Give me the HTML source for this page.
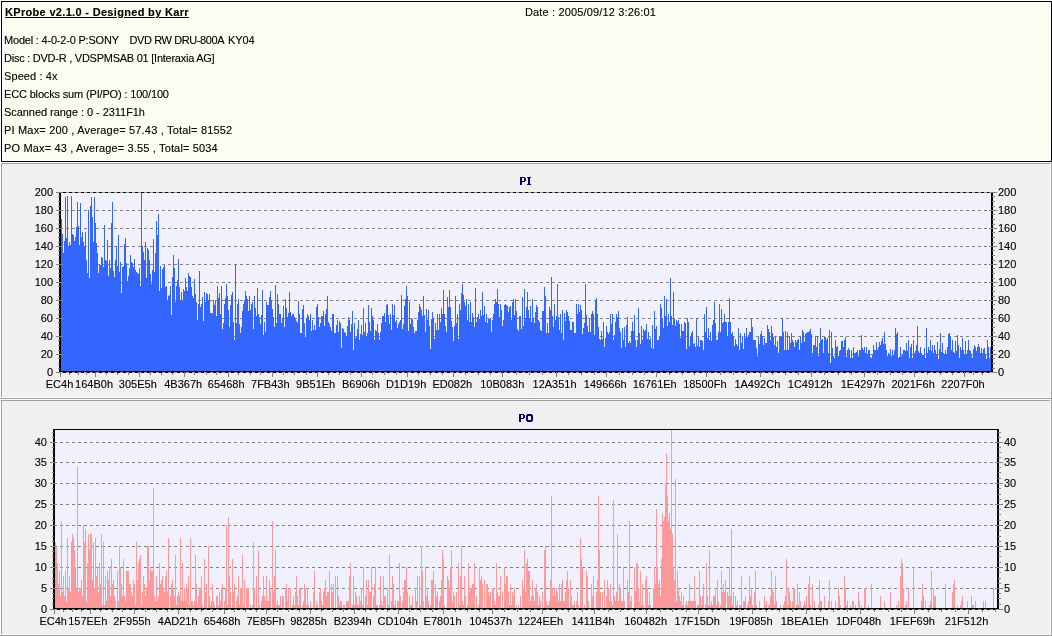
<!DOCTYPE html>
<html><head><meta charset="utf-8"><style>
html,body{margin:0;padding:0;}
body{width:1052px;height:636px;overflow:hidden;position:relative;background:#FFFFFF;font-family:"Liberation Sans", sans-serif;}
.hdr{position:absolute;left:1px;top:1px;width:1051px;height:161px;box-sizing:border-box;border:1px solid #000;background:#FCFCF0;box-shadow:inset 1px -1px 0 #FFFFFF, inset -1px 0 0 #FFFFFF;}
.t{position:absolute;font-size:11px;line-height:13px;white-space:nowrap;color:#000;}
.txt{position:absolute;left:0;top:0;width:1052px;height:636px;will-change:transform;filter:url(#th);}
</style></head><body>
<svg width="0" height="0" style="position:absolute"><filter id="th" x="0" y="0" width="1" height="1" filterUnits="objectBoundingBox"><feComponentTransfer><feFuncA type="gamma" amplitude="1" exponent="0.8" offset="0"/></feComponentTransfer></filter></svg>
<svg width="1052" height="636" viewBox="0 0 1052 636" shape-rendering="crispEdges" font-family='"Liberation Sans", sans-serif' style="position:absolute;left:0;top:0;will-change:transform"><rect x="0" y="162" width="1052" height="237" fill="#F0F0F0"/><rect x="0" y="162" width="1052" height="1" fill="#FFFFFF"/><rect x="0" y="162" width="1" height="237" fill="#FFFFFF"/><rect x="1" y="163" width="1050" height="1" fill="#A0A0A0"/><rect x="1" y="163" width="1" height="235" fill="#A0A0A0"/><rect x="1" y="397" width="1050" height="1" fill="#FFFFFF"/><rect x="1050" y="163" width="1" height="235" fill="#FFFFFF"/><rect x="0" y="398" width="1052" height="1" fill="#A0A0A0"/><rect x="1051" y="162" width="1" height="237" fill="#A0A0A0"/><rect x="0" y="399" width="1052" height="237" fill="#F0F0F0"/><rect x="0" y="399" width="1052" height="1" fill="#FFFFFF"/><rect x="0" y="399" width="1" height="237" fill="#FFFFFF"/><rect x="1" y="400" width="1050" height="1" fill="#A0A0A0"/><rect x="1" y="400" width="1" height="235" fill="#A0A0A0"/><rect x="1" y="634" width="1050" height="1" fill="#FFFFFF"/><rect x="1050" y="400" width="1" height="235" fill="#FFFFFF"/><rect x="0" y="635" width="1052" height="1" fill="#A0A0A0"/><rect x="1051" y="399" width="1" height="237" fill="#A0A0A0"/><rect x="61" y="193" width="930" height="178" fill="#F0F0FF"/><path d="M61 354h2v1h-2zM66 354h3v1h-3zM72 354h3v1h-3zM78 354h3v1h-3zM84 354h3v1h-3zM90 354h3v1h-3zM96 354h3v1h-3zM102 354h3v1h-3zM108 354h3v1h-3zM114 354h3v1h-3zM120 354h3v1h-3zM126 354h3v1h-3zM132 354h3v1h-3zM138 354h3v1h-3zM144 354h3v1h-3zM150 354h3v1h-3zM156 354h3v1h-3zM162 354h3v1h-3zM168 354h3v1h-3zM174 354h3v1h-3zM180 354h3v1h-3zM186 354h3v1h-3zM192 354h3v1h-3zM198 354h3v1h-3zM204 354h3v1h-3zM210 354h3v1h-3zM216 354h3v1h-3zM222 354h3v1h-3zM228 354h3v1h-3zM234 354h3v1h-3zM240 354h3v1h-3zM246 354h3v1h-3zM252 354h3v1h-3zM258 354h3v1h-3zM264 354h3v1h-3zM270 354h3v1h-3zM276 354h3v1h-3zM282 354h3v1h-3zM288 354h3v1h-3zM294 354h3v1h-3zM300 354h3v1h-3zM306 354h3v1h-3zM312 354h3v1h-3zM318 354h3v1h-3zM324 354h3v1h-3zM330 354h3v1h-3zM336 354h3v1h-3zM342 354h3v1h-3zM348 354h3v1h-3zM354 354h3v1h-3zM360 354h3v1h-3zM366 354h3v1h-3zM372 354h3v1h-3zM378 354h3v1h-3zM384 354h3v1h-3zM390 354h3v1h-3zM396 354h3v1h-3zM402 354h3v1h-3zM408 354h3v1h-3zM414 354h3v1h-3zM420 354h3v1h-3zM426 354h3v1h-3zM432 354h3v1h-3zM438 354h3v1h-3zM444 354h3v1h-3zM450 354h3v1h-3zM456 354h3v1h-3zM462 354h3v1h-3zM468 354h3v1h-3zM474 354h3v1h-3zM480 354h3v1h-3zM486 354h3v1h-3zM492 354h3v1h-3zM498 354h3v1h-3zM504 354h3v1h-3zM510 354h3v1h-3zM516 354h3v1h-3zM522 354h3v1h-3zM528 354h3v1h-3zM534 354h3v1h-3zM540 354h3v1h-3zM546 354h3v1h-3zM552 354h3v1h-3zM558 354h3v1h-3zM564 354h3v1h-3zM570 354h3v1h-3zM576 354h3v1h-3zM582 354h3v1h-3zM588 354h3v1h-3zM594 354h3v1h-3zM600 354h3v1h-3zM606 354h3v1h-3zM612 354h3v1h-3zM618 354h3v1h-3zM624 354h3v1h-3zM630 354h3v1h-3zM636 354h3v1h-3zM642 354h3v1h-3zM648 354h3v1h-3zM654 354h3v1h-3zM660 354h3v1h-3zM666 354h3v1h-3zM672 354h3v1h-3zM678 354h3v1h-3zM684 354h3v1h-3zM690 354h3v1h-3zM696 354h3v1h-3zM702 354h3v1h-3zM708 354h3v1h-3zM714 354h3v1h-3zM720 354h3v1h-3zM726 354h3v1h-3zM732 354h3v1h-3zM738 354h3v1h-3zM744 354h3v1h-3zM750 354h3v1h-3zM756 354h3v1h-3zM762 354h3v1h-3zM768 354h3v1h-3zM774 354h3v1h-3zM780 354h3v1h-3zM786 354h3v1h-3zM792 354h3v1h-3zM798 354h3v1h-3zM804 354h3v1h-3zM810 354h3v1h-3zM816 354h3v1h-3zM822 354h3v1h-3zM828 354h3v1h-3zM834 354h3v1h-3zM840 354h3v1h-3zM846 354h3v1h-3zM852 354h3v1h-3zM858 354h3v1h-3zM864 354h3v1h-3zM870 354h3v1h-3zM876 354h3v1h-3zM882 354h3v1h-3zM888 354h3v1h-3zM894 354h3v1h-3zM900 354h3v1h-3zM906 354h3v1h-3zM912 354h3v1h-3zM918 354h3v1h-3zM924 354h3v1h-3zM930 354h3v1h-3zM936 354h3v1h-3zM942 354h3v1h-3zM948 354h3v1h-3zM954 354h3v1h-3zM960 354h3v1h-3zM966 354h3v1h-3zM972 354h3v1h-3zM978 354h3v1h-3zM984 354h3v1h-3zM990 354h1v1h-1z" fill="#808080"/><path d="M61 336h2v1h-2zM66 336h3v1h-3zM72 336h3v1h-3zM78 336h3v1h-3zM84 336h3v1h-3zM90 336h3v1h-3zM96 336h3v1h-3zM102 336h3v1h-3zM108 336h3v1h-3zM114 336h3v1h-3zM120 336h3v1h-3zM126 336h3v1h-3zM132 336h3v1h-3zM138 336h3v1h-3zM144 336h3v1h-3zM150 336h3v1h-3zM156 336h3v1h-3zM162 336h3v1h-3zM168 336h3v1h-3zM174 336h3v1h-3zM180 336h3v1h-3zM186 336h3v1h-3zM192 336h3v1h-3zM198 336h3v1h-3zM204 336h3v1h-3zM210 336h3v1h-3zM216 336h3v1h-3zM222 336h3v1h-3zM228 336h3v1h-3zM234 336h3v1h-3zM240 336h3v1h-3zM246 336h3v1h-3zM252 336h3v1h-3zM258 336h3v1h-3zM264 336h3v1h-3zM270 336h3v1h-3zM276 336h3v1h-3zM282 336h3v1h-3zM288 336h3v1h-3zM294 336h3v1h-3zM300 336h3v1h-3zM306 336h3v1h-3zM312 336h3v1h-3zM318 336h3v1h-3zM324 336h3v1h-3zM330 336h3v1h-3zM336 336h3v1h-3zM342 336h3v1h-3zM348 336h3v1h-3zM354 336h3v1h-3zM360 336h3v1h-3zM366 336h3v1h-3zM372 336h3v1h-3zM378 336h3v1h-3zM384 336h3v1h-3zM390 336h3v1h-3zM396 336h3v1h-3zM402 336h3v1h-3zM408 336h3v1h-3zM414 336h3v1h-3zM420 336h3v1h-3zM426 336h3v1h-3zM432 336h3v1h-3zM438 336h3v1h-3zM444 336h3v1h-3zM450 336h3v1h-3zM456 336h3v1h-3zM462 336h3v1h-3zM468 336h3v1h-3zM474 336h3v1h-3zM480 336h3v1h-3zM486 336h3v1h-3zM492 336h3v1h-3zM498 336h3v1h-3zM504 336h3v1h-3zM510 336h3v1h-3zM516 336h3v1h-3zM522 336h3v1h-3zM528 336h3v1h-3zM534 336h3v1h-3zM540 336h3v1h-3zM546 336h3v1h-3zM552 336h3v1h-3zM558 336h3v1h-3zM564 336h3v1h-3zM570 336h3v1h-3zM576 336h3v1h-3zM582 336h3v1h-3zM588 336h3v1h-3zM594 336h3v1h-3zM600 336h3v1h-3zM606 336h3v1h-3zM612 336h3v1h-3zM618 336h3v1h-3zM624 336h3v1h-3zM630 336h3v1h-3zM636 336h3v1h-3zM642 336h3v1h-3zM648 336h3v1h-3zM654 336h3v1h-3zM660 336h3v1h-3zM666 336h3v1h-3zM672 336h3v1h-3zM678 336h3v1h-3zM684 336h3v1h-3zM690 336h3v1h-3zM696 336h3v1h-3zM702 336h3v1h-3zM708 336h3v1h-3zM714 336h3v1h-3zM720 336h3v1h-3zM726 336h3v1h-3zM732 336h3v1h-3zM738 336h3v1h-3zM744 336h3v1h-3zM750 336h3v1h-3zM756 336h3v1h-3zM762 336h3v1h-3zM768 336h3v1h-3zM774 336h3v1h-3zM780 336h3v1h-3zM786 336h3v1h-3zM792 336h3v1h-3zM798 336h3v1h-3zM804 336h3v1h-3zM810 336h3v1h-3zM816 336h3v1h-3zM822 336h3v1h-3zM828 336h3v1h-3zM834 336h3v1h-3zM840 336h3v1h-3zM846 336h3v1h-3zM852 336h3v1h-3zM858 336h3v1h-3zM864 336h3v1h-3zM870 336h3v1h-3zM876 336h3v1h-3zM882 336h3v1h-3zM888 336h3v1h-3zM894 336h3v1h-3zM900 336h3v1h-3zM906 336h3v1h-3zM912 336h3v1h-3zM918 336h3v1h-3zM924 336h3v1h-3zM930 336h3v1h-3zM936 336h3v1h-3zM942 336h3v1h-3zM948 336h3v1h-3zM954 336h3v1h-3zM960 336h3v1h-3zM966 336h3v1h-3zM972 336h3v1h-3zM978 336h3v1h-3zM984 336h3v1h-3zM990 336h1v1h-1z" fill="#808080"/><path d="M61 318h2v1h-2zM66 318h3v1h-3zM72 318h3v1h-3zM78 318h3v1h-3zM84 318h3v1h-3zM90 318h3v1h-3zM96 318h3v1h-3zM102 318h3v1h-3zM108 318h3v1h-3zM114 318h3v1h-3zM120 318h3v1h-3zM126 318h3v1h-3zM132 318h3v1h-3zM138 318h3v1h-3zM144 318h3v1h-3zM150 318h3v1h-3zM156 318h3v1h-3zM162 318h3v1h-3zM168 318h3v1h-3zM174 318h3v1h-3zM180 318h3v1h-3zM186 318h3v1h-3zM192 318h3v1h-3zM198 318h3v1h-3zM204 318h3v1h-3zM210 318h3v1h-3zM216 318h3v1h-3zM222 318h3v1h-3zM228 318h3v1h-3zM234 318h3v1h-3zM240 318h3v1h-3zM246 318h3v1h-3zM252 318h3v1h-3zM258 318h3v1h-3zM264 318h3v1h-3zM270 318h3v1h-3zM276 318h3v1h-3zM282 318h3v1h-3zM288 318h3v1h-3zM294 318h3v1h-3zM300 318h3v1h-3zM306 318h3v1h-3zM312 318h3v1h-3zM318 318h3v1h-3zM324 318h3v1h-3zM330 318h3v1h-3zM336 318h3v1h-3zM342 318h3v1h-3zM348 318h3v1h-3zM354 318h3v1h-3zM360 318h3v1h-3zM366 318h3v1h-3zM372 318h3v1h-3zM378 318h3v1h-3zM384 318h3v1h-3zM390 318h3v1h-3zM396 318h3v1h-3zM402 318h3v1h-3zM408 318h3v1h-3zM414 318h3v1h-3zM420 318h3v1h-3zM426 318h3v1h-3zM432 318h3v1h-3zM438 318h3v1h-3zM444 318h3v1h-3zM450 318h3v1h-3zM456 318h3v1h-3zM462 318h3v1h-3zM468 318h3v1h-3zM474 318h3v1h-3zM480 318h3v1h-3zM486 318h3v1h-3zM492 318h3v1h-3zM498 318h3v1h-3zM504 318h3v1h-3zM510 318h3v1h-3zM516 318h3v1h-3zM522 318h3v1h-3zM528 318h3v1h-3zM534 318h3v1h-3zM540 318h3v1h-3zM546 318h3v1h-3zM552 318h3v1h-3zM558 318h3v1h-3zM564 318h3v1h-3zM570 318h3v1h-3zM576 318h3v1h-3zM582 318h3v1h-3zM588 318h3v1h-3zM594 318h3v1h-3zM600 318h3v1h-3zM606 318h3v1h-3zM612 318h3v1h-3zM618 318h3v1h-3zM624 318h3v1h-3zM630 318h3v1h-3zM636 318h3v1h-3zM642 318h3v1h-3zM648 318h3v1h-3zM654 318h3v1h-3zM660 318h3v1h-3zM666 318h3v1h-3zM672 318h3v1h-3zM678 318h3v1h-3zM684 318h3v1h-3zM690 318h3v1h-3zM696 318h3v1h-3zM702 318h3v1h-3zM708 318h3v1h-3zM714 318h3v1h-3zM720 318h3v1h-3zM726 318h3v1h-3zM732 318h3v1h-3zM738 318h3v1h-3zM744 318h3v1h-3zM750 318h3v1h-3zM756 318h3v1h-3zM762 318h3v1h-3zM768 318h3v1h-3zM774 318h3v1h-3zM780 318h3v1h-3zM786 318h3v1h-3zM792 318h3v1h-3zM798 318h3v1h-3zM804 318h3v1h-3zM810 318h3v1h-3zM816 318h3v1h-3zM822 318h3v1h-3zM828 318h3v1h-3zM834 318h3v1h-3zM840 318h3v1h-3zM846 318h3v1h-3zM852 318h3v1h-3zM858 318h3v1h-3zM864 318h3v1h-3zM870 318h3v1h-3zM876 318h3v1h-3zM882 318h3v1h-3zM888 318h3v1h-3zM894 318h3v1h-3zM900 318h3v1h-3zM906 318h3v1h-3zM912 318h3v1h-3zM918 318h3v1h-3zM924 318h3v1h-3zM930 318h3v1h-3zM936 318h3v1h-3zM942 318h3v1h-3zM948 318h3v1h-3zM954 318h3v1h-3zM960 318h3v1h-3zM966 318h3v1h-3zM972 318h3v1h-3zM978 318h3v1h-3zM984 318h3v1h-3zM990 318h1v1h-1z" fill="#808080"/><path d="M61 300h2v1h-2zM66 300h3v1h-3zM72 300h3v1h-3zM78 300h3v1h-3zM84 300h3v1h-3zM90 300h3v1h-3zM96 300h3v1h-3zM102 300h3v1h-3zM108 300h3v1h-3zM114 300h3v1h-3zM120 300h3v1h-3zM126 300h3v1h-3zM132 300h3v1h-3zM138 300h3v1h-3zM144 300h3v1h-3zM150 300h3v1h-3zM156 300h3v1h-3zM162 300h3v1h-3zM168 300h3v1h-3zM174 300h3v1h-3zM180 300h3v1h-3zM186 300h3v1h-3zM192 300h3v1h-3zM198 300h3v1h-3zM204 300h3v1h-3zM210 300h3v1h-3zM216 300h3v1h-3zM222 300h3v1h-3zM228 300h3v1h-3zM234 300h3v1h-3zM240 300h3v1h-3zM246 300h3v1h-3zM252 300h3v1h-3zM258 300h3v1h-3zM264 300h3v1h-3zM270 300h3v1h-3zM276 300h3v1h-3zM282 300h3v1h-3zM288 300h3v1h-3zM294 300h3v1h-3zM300 300h3v1h-3zM306 300h3v1h-3zM312 300h3v1h-3zM318 300h3v1h-3zM324 300h3v1h-3zM330 300h3v1h-3zM336 300h3v1h-3zM342 300h3v1h-3zM348 300h3v1h-3zM354 300h3v1h-3zM360 300h3v1h-3zM366 300h3v1h-3zM372 300h3v1h-3zM378 300h3v1h-3zM384 300h3v1h-3zM390 300h3v1h-3zM396 300h3v1h-3zM402 300h3v1h-3zM408 300h3v1h-3zM414 300h3v1h-3zM420 300h3v1h-3zM426 300h3v1h-3zM432 300h3v1h-3zM438 300h3v1h-3zM444 300h3v1h-3zM450 300h3v1h-3zM456 300h3v1h-3zM462 300h3v1h-3zM468 300h3v1h-3zM474 300h3v1h-3zM480 300h3v1h-3zM486 300h3v1h-3zM492 300h3v1h-3zM498 300h3v1h-3zM504 300h3v1h-3zM510 300h3v1h-3zM516 300h3v1h-3zM522 300h3v1h-3zM528 300h3v1h-3zM534 300h3v1h-3zM540 300h3v1h-3zM546 300h3v1h-3zM552 300h3v1h-3zM558 300h3v1h-3zM564 300h3v1h-3zM570 300h3v1h-3zM576 300h3v1h-3zM582 300h3v1h-3zM588 300h3v1h-3zM594 300h3v1h-3zM600 300h3v1h-3zM606 300h3v1h-3zM612 300h3v1h-3zM618 300h3v1h-3zM624 300h3v1h-3zM630 300h3v1h-3zM636 300h3v1h-3zM642 300h3v1h-3zM648 300h3v1h-3zM654 300h3v1h-3zM660 300h3v1h-3zM666 300h3v1h-3zM672 300h3v1h-3zM678 300h3v1h-3zM684 300h3v1h-3zM690 300h3v1h-3zM696 300h3v1h-3zM702 300h3v1h-3zM708 300h3v1h-3zM714 300h3v1h-3zM720 300h3v1h-3zM726 300h3v1h-3zM732 300h3v1h-3zM738 300h3v1h-3zM744 300h3v1h-3zM750 300h3v1h-3zM756 300h3v1h-3zM762 300h3v1h-3zM768 300h3v1h-3zM774 300h3v1h-3zM780 300h3v1h-3zM786 300h3v1h-3zM792 300h3v1h-3zM798 300h3v1h-3zM804 300h3v1h-3zM810 300h3v1h-3zM816 300h3v1h-3zM822 300h3v1h-3zM828 300h3v1h-3zM834 300h3v1h-3zM840 300h3v1h-3zM846 300h3v1h-3zM852 300h3v1h-3zM858 300h3v1h-3zM864 300h3v1h-3zM870 300h3v1h-3zM876 300h3v1h-3zM882 300h3v1h-3zM888 300h3v1h-3zM894 300h3v1h-3zM900 300h3v1h-3zM906 300h3v1h-3zM912 300h3v1h-3zM918 300h3v1h-3zM924 300h3v1h-3zM930 300h3v1h-3zM936 300h3v1h-3zM942 300h3v1h-3zM948 300h3v1h-3zM954 300h3v1h-3zM960 300h3v1h-3zM966 300h3v1h-3zM972 300h3v1h-3zM978 300h3v1h-3zM984 300h3v1h-3zM990 300h1v1h-1z" fill="#808080"/><path d="M61 282h2v1h-2zM66 282h3v1h-3zM72 282h3v1h-3zM78 282h3v1h-3zM84 282h3v1h-3zM90 282h3v1h-3zM96 282h3v1h-3zM102 282h3v1h-3zM108 282h3v1h-3zM114 282h3v1h-3zM120 282h3v1h-3zM126 282h3v1h-3zM132 282h3v1h-3zM138 282h3v1h-3zM144 282h3v1h-3zM150 282h3v1h-3zM156 282h3v1h-3zM162 282h3v1h-3zM168 282h3v1h-3zM174 282h3v1h-3zM180 282h3v1h-3zM186 282h3v1h-3zM192 282h3v1h-3zM198 282h3v1h-3zM204 282h3v1h-3zM210 282h3v1h-3zM216 282h3v1h-3zM222 282h3v1h-3zM228 282h3v1h-3zM234 282h3v1h-3zM240 282h3v1h-3zM246 282h3v1h-3zM252 282h3v1h-3zM258 282h3v1h-3zM264 282h3v1h-3zM270 282h3v1h-3zM276 282h3v1h-3zM282 282h3v1h-3zM288 282h3v1h-3zM294 282h3v1h-3zM300 282h3v1h-3zM306 282h3v1h-3zM312 282h3v1h-3zM318 282h3v1h-3zM324 282h3v1h-3zM330 282h3v1h-3zM336 282h3v1h-3zM342 282h3v1h-3zM348 282h3v1h-3zM354 282h3v1h-3zM360 282h3v1h-3zM366 282h3v1h-3zM372 282h3v1h-3zM378 282h3v1h-3zM384 282h3v1h-3zM390 282h3v1h-3zM396 282h3v1h-3zM402 282h3v1h-3zM408 282h3v1h-3zM414 282h3v1h-3zM420 282h3v1h-3zM426 282h3v1h-3zM432 282h3v1h-3zM438 282h3v1h-3zM444 282h3v1h-3zM450 282h3v1h-3zM456 282h3v1h-3zM462 282h3v1h-3zM468 282h3v1h-3zM474 282h3v1h-3zM480 282h3v1h-3zM486 282h3v1h-3zM492 282h3v1h-3zM498 282h3v1h-3zM504 282h3v1h-3zM510 282h3v1h-3zM516 282h3v1h-3zM522 282h3v1h-3zM528 282h3v1h-3zM534 282h3v1h-3zM540 282h3v1h-3zM546 282h3v1h-3zM552 282h3v1h-3zM558 282h3v1h-3zM564 282h3v1h-3zM570 282h3v1h-3zM576 282h3v1h-3zM582 282h3v1h-3zM588 282h3v1h-3zM594 282h3v1h-3zM600 282h3v1h-3zM606 282h3v1h-3zM612 282h3v1h-3zM618 282h3v1h-3zM624 282h3v1h-3zM630 282h3v1h-3zM636 282h3v1h-3zM642 282h3v1h-3zM648 282h3v1h-3zM654 282h3v1h-3zM660 282h3v1h-3zM666 282h3v1h-3zM672 282h3v1h-3zM678 282h3v1h-3zM684 282h3v1h-3zM690 282h3v1h-3zM696 282h3v1h-3zM702 282h3v1h-3zM708 282h3v1h-3zM714 282h3v1h-3zM720 282h3v1h-3zM726 282h3v1h-3zM732 282h3v1h-3zM738 282h3v1h-3zM744 282h3v1h-3zM750 282h3v1h-3zM756 282h3v1h-3zM762 282h3v1h-3zM768 282h3v1h-3zM774 282h3v1h-3zM780 282h3v1h-3zM786 282h3v1h-3zM792 282h3v1h-3zM798 282h3v1h-3zM804 282h3v1h-3zM810 282h3v1h-3zM816 282h3v1h-3zM822 282h3v1h-3zM828 282h3v1h-3zM834 282h3v1h-3zM840 282h3v1h-3zM846 282h3v1h-3zM852 282h3v1h-3zM858 282h3v1h-3zM864 282h3v1h-3zM870 282h3v1h-3zM876 282h3v1h-3zM882 282h3v1h-3zM888 282h3v1h-3zM894 282h3v1h-3zM900 282h3v1h-3zM906 282h3v1h-3zM912 282h3v1h-3zM918 282h3v1h-3zM924 282h3v1h-3zM930 282h3v1h-3zM936 282h3v1h-3zM942 282h3v1h-3zM948 282h3v1h-3zM954 282h3v1h-3zM960 282h3v1h-3zM966 282h3v1h-3zM972 282h3v1h-3zM978 282h3v1h-3zM984 282h3v1h-3zM990 282h1v1h-1z" fill="#808080"/><path d="M61 264h2v1h-2zM66 264h3v1h-3zM72 264h3v1h-3zM78 264h3v1h-3zM84 264h3v1h-3zM90 264h3v1h-3zM96 264h3v1h-3zM102 264h3v1h-3zM108 264h3v1h-3zM114 264h3v1h-3zM120 264h3v1h-3zM126 264h3v1h-3zM132 264h3v1h-3zM138 264h3v1h-3zM144 264h3v1h-3zM150 264h3v1h-3zM156 264h3v1h-3zM162 264h3v1h-3zM168 264h3v1h-3zM174 264h3v1h-3zM180 264h3v1h-3zM186 264h3v1h-3zM192 264h3v1h-3zM198 264h3v1h-3zM204 264h3v1h-3zM210 264h3v1h-3zM216 264h3v1h-3zM222 264h3v1h-3zM228 264h3v1h-3zM234 264h3v1h-3zM240 264h3v1h-3zM246 264h3v1h-3zM252 264h3v1h-3zM258 264h3v1h-3zM264 264h3v1h-3zM270 264h3v1h-3zM276 264h3v1h-3zM282 264h3v1h-3zM288 264h3v1h-3zM294 264h3v1h-3zM300 264h3v1h-3zM306 264h3v1h-3zM312 264h3v1h-3zM318 264h3v1h-3zM324 264h3v1h-3zM330 264h3v1h-3zM336 264h3v1h-3zM342 264h3v1h-3zM348 264h3v1h-3zM354 264h3v1h-3zM360 264h3v1h-3zM366 264h3v1h-3zM372 264h3v1h-3zM378 264h3v1h-3zM384 264h3v1h-3zM390 264h3v1h-3zM396 264h3v1h-3zM402 264h3v1h-3zM408 264h3v1h-3zM414 264h3v1h-3zM420 264h3v1h-3zM426 264h3v1h-3zM432 264h3v1h-3zM438 264h3v1h-3zM444 264h3v1h-3zM450 264h3v1h-3zM456 264h3v1h-3zM462 264h3v1h-3zM468 264h3v1h-3zM474 264h3v1h-3zM480 264h3v1h-3zM486 264h3v1h-3zM492 264h3v1h-3zM498 264h3v1h-3zM504 264h3v1h-3zM510 264h3v1h-3zM516 264h3v1h-3zM522 264h3v1h-3zM528 264h3v1h-3zM534 264h3v1h-3zM540 264h3v1h-3zM546 264h3v1h-3zM552 264h3v1h-3zM558 264h3v1h-3zM564 264h3v1h-3zM570 264h3v1h-3zM576 264h3v1h-3zM582 264h3v1h-3zM588 264h3v1h-3zM594 264h3v1h-3zM600 264h3v1h-3zM606 264h3v1h-3zM612 264h3v1h-3zM618 264h3v1h-3zM624 264h3v1h-3zM630 264h3v1h-3zM636 264h3v1h-3zM642 264h3v1h-3zM648 264h3v1h-3zM654 264h3v1h-3zM660 264h3v1h-3zM666 264h3v1h-3zM672 264h3v1h-3zM678 264h3v1h-3zM684 264h3v1h-3zM690 264h3v1h-3zM696 264h3v1h-3zM702 264h3v1h-3zM708 264h3v1h-3zM714 264h3v1h-3zM720 264h3v1h-3zM726 264h3v1h-3zM732 264h3v1h-3zM738 264h3v1h-3zM744 264h3v1h-3zM750 264h3v1h-3zM756 264h3v1h-3zM762 264h3v1h-3zM768 264h3v1h-3zM774 264h3v1h-3zM780 264h3v1h-3zM786 264h3v1h-3zM792 264h3v1h-3zM798 264h3v1h-3zM804 264h3v1h-3zM810 264h3v1h-3zM816 264h3v1h-3zM822 264h3v1h-3zM828 264h3v1h-3zM834 264h3v1h-3zM840 264h3v1h-3zM846 264h3v1h-3zM852 264h3v1h-3zM858 264h3v1h-3zM864 264h3v1h-3zM870 264h3v1h-3zM876 264h3v1h-3zM882 264h3v1h-3zM888 264h3v1h-3zM894 264h3v1h-3zM900 264h3v1h-3zM906 264h3v1h-3zM912 264h3v1h-3zM918 264h3v1h-3zM924 264h3v1h-3zM930 264h3v1h-3zM936 264h3v1h-3zM942 264h3v1h-3zM948 264h3v1h-3zM954 264h3v1h-3zM960 264h3v1h-3zM966 264h3v1h-3zM972 264h3v1h-3zM978 264h3v1h-3zM984 264h3v1h-3zM990 264h1v1h-1z" fill="#808080"/><path d="M61 246h2v1h-2zM66 246h3v1h-3zM72 246h3v1h-3zM78 246h3v1h-3zM84 246h3v1h-3zM90 246h3v1h-3zM96 246h3v1h-3zM102 246h3v1h-3zM108 246h3v1h-3zM114 246h3v1h-3zM120 246h3v1h-3zM126 246h3v1h-3zM132 246h3v1h-3zM138 246h3v1h-3zM144 246h3v1h-3zM150 246h3v1h-3zM156 246h3v1h-3zM162 246h3v1h-3zM168 246h3v1h-3zM174 246h3v1h-3zM180 246h3v1h-3zM186 246h3v1h-3zM192 246h3v1h-3zM198 246h3v1h-3zM204 246h3v1h-3zM210 246h3v1h-3zM216 246h3v1h-3zM222 246h3v1h-3zM228 246h3v1h-3zM234 246h3v1h-3zM240 246h3v1h-3zM246 246h3v1h-3zM252 246h3v1h-3zM258 246h3v1h-3zM264 246h3v1h-3zM270 246h3v1h-3zM276 246h3v1h-3zM282 246h3v1h-3zM288 246h3v1h-3zM294 246h3v1h-3zM300 246h3v1h-3zM306 246h3v1h-3zM312 246h3v1h-3zM318 246h3v1h-3zM324 246h3v1h-3zM330 246h3v1h-3zM336 246h3v1h-3zM342 246h3v1h-3zM348 246h3v1h-3zM354 246h3v1h-3zM360 246h3v1h-3zM366 246h3v1h-3zM372 246h3v1h-3zM378 246h3v1h-3zM384 246h3v1h-3zM390 246h3v1h-3zM396 246h3v1h-3zM402 246h3v1h-3zM408 246h3v1h-3zM414 246h3v1h-3zM420 246h3v1h-3zM426 246h3v1h-3zM432 246h3v1h-3zM438 246h3v1h-3zM444 246h3v1h-3zM450 246h3v1h-3zM456 246h3v1h-3zM462 246h3v1h-3zM468 246h3v1h-3zM474 246h3v1h-3zM480 246h3v1h-3zM486 246h3v1h-3zM492 246h3v1h-3zM498 246h3v1h-3zM504 246h3v1h-3zM510 246h3v1h-3zM516 246h3v1h-3zM522 246h3v1h-3zM528 246h3v1h-3zM534 246h3v1h-3zM540 246h3v1h-3zM546 246h3v1h-3zM552 246h3v1h-3zM558 246h3v1h-3zM564 246h3v1h-3zM570 246h3v1h-3zM576 246h3v1h-3zM582 246h3v1h-3zM588 246h3v1h-3zM594 246h3v1h-3zM600 246h3v1h-3zM606 246h3v1h-3zM612 246h3v1h-3zM618 246h3v1h-3zM624 246h3v1h-3zM630 246h3v1h-3zM636 246h3v1h-3zM642 246h3v1h-3zM648 246h3v1h-3zM654 246h3v1h-3zM660 246h3v1h-3zM666 246h3v1h-3zM672 246h3v1h-3zM678 246h3v1h-3zM684 246h3v1h-3zM690 246h3v1h-3zM696 246h3v1h-3zM702 246h3v1h-3zM708 246h3v1h-3zM714 246h3v1h-3zM720 246h3v1h-3zM726 246h3v1h-3zM732 246h3v1h-3zM738 246h3v1h-3zM744 246h3v1h-3zM750 246h3v1h-3zM756 246h3v1h-3zM762 246h3v1h-3zM768 246h3v1h-3zM774 246h3v1h-3zM780 246h3v1h-3zM786 246h3v1h-3zM792 246h3v1h-3zM798 246h3v1h-3zM804 246h3v1h-3zM810 246h3v1h-3zM816 246h3v1h-3zM822 246h3v1h-3zM828 246h3v1h-3zM834 246h3v1h-3zM840 246h3v1h-3zM846 246h3v1h-3zM852 246h3v1h-3zM858 246h3v1h-3zM864 246h3v1h-3zM870 246h3v1h-3zM876 246h3v1h-3zM882 246h3v1h-3zM888 246h3v1h-3zM894 246h3v1h-3zM900 246h3v1h-3zM906 246h3v1h-3zM912 246h3v1h-3zM918 246h3v1h-3zM924 246h3v1h-3zM930 246h3v1h-3zM936 246h3v1h-3zM942 246h3v1h-3zM948 246h3v1h-3zM954 246h3v1h-3zM960 246h3v1h-3zM966 246h3v1h-3zM972 246h3v1h-3zM978 246h3v1h-3zM984 246h3v1h-3zM990 246h1v1h-1z" fill="#808080"/><path d="M61 228h2v1h-2zM66 228h3v1h-3zM72 228h3v1h-3zM78 228h3v1h-3zM84 228h3v1h-3zM90 228h3v1h-3zM96 228h3v1h-3zM102 228h3v1h-3zM108 228h3v1h-3zM114 228h3v1h-3zM120 228h3v1h-3zM126 228h3v1h-3zM132 228h3v1h-3zM138 228h3v1h-3zM144 228h3v1h-3zM150 228h3v1h-3zM156 228h3v1h-3zM162 228h3v1h-3zM168 228h3v1h-3zM174 228h3v1h-3zM180 228h3v1h-3zM186 228h3v1h-3zM192 228h3v1h-3zM198 228h3v1h-3zM204 228h3v1h-3zM210 228h3v1h-3zM216 228h3v1h-3zM222 228h3v1h-3zM228 228h3v1h-3zM234 228h3v1h-3zM240 228h3v1h-3zM246 228h3v1h-3zM252 228h3v1h-3zM258 228h3v1h-3zM264 228h3v1h-3zM270 228h3v1h-3zM276 228h3v1h-3zM282 228h3v1h-3zM288 228h3v1h-3zM294 228h3v1h-3zM300 228h3v1h-3zM306 228h3v1h-3zM312 228h3v1h-3zM318 228h3v1h-3zM324 228h3v1h-3zM330 228h3v1h-3zM336 228h3v1h-3zM342 228h3v1h-3zM348 228h3v1h-3zM354 228h3v1h-3zM360 228h3v1h-3zM366 228h3v1h-3zM372 228h3v1h-3zM378 228h3v1h-3zM384 228h3v1h-3zM390 228h3v1h-3zM396 228h3v1h-3zM402 228h3v1h-3zM408 228h3v1h-3zM414 228h3v1h-3zM420 228h3v1h-3zM426 228h3v1h-3zM432 228h3v1h-3zM438 228h3v1h-3zM444 228h3v1h-3zM450 228h3v1h-3zM456 228h3v1h-3zM462 228h3v1h-3zM468 228h3v1h-3zM474 228h3v1h-3zM480 228h3v1h-3zM486 228h3v1h-3zM492 228h3v1h-3zM498 228h3v1h-3zM504 228h3v1h-3zM510 228h3v1h-3zM516 228h3v1h-3zM522 228h3v1h-3zM528 228h3v1h-3zM534 228h3v1h-3zM540 228h3v1h-3zM546 228h3v1h-3zM552 228h3v1h-3zM558 228h3v1h-3zM564 228h3v1h-3zM570 228h3v1h-3zM576 228h3v1h-3zM582 228h3v1h-3zM588 228h3v1h-3zM594 228h3v1h-3zM600 228h3v1h-3zM606 228h3v1h-3zM612 228h3v1h-3zM618 228h3v1h-3zM624 228h3v1h-3zM630 228h3v1h-3zM636 228h3v1h-3zM642 228h3v1h-3zM648 228h3v1h-3zM654 228h3v1h-3zM660 228h3v1h-3zM666 228h3v1h-3zM672 228h3v1h-3zM678 228h3v1h-3zM684 228h3v1h-3zM690 228h3v1h-3zM696 228h3v1h-3zM702 228h3v1h-3zM708 228h3v1h-3zM714 228h3v1h-3zM720 228h3v1h-3zM726 228h3v1h-3zM732 228h3v1h-3zM738 228h3v1h-3zM744 228h3v1h-3zM750 228h3v1h-3zM756 228h3v1h-3zM762 228h3v1h-3zM768 228h3v1h-3zM774 228h3v1h-3zM780 228h3v1h-3zM786 228h3v1h-3zM792 228h3v1h-3zM798 228h3v1h-3zM804 228h3v1h-3zM810 228h3v1h-3zM816 228h3v1h-3zM822 228h3v1h-3zM828 228h3v1h-3zM834 228h3v1h-3zM840 228h3v1h-3zM846 228h3v1h-3zM852 228h3v1h-3zM858 228h3v1h-3zM864 228h3v1h-3zM870 228h3v1h-3zM876 228h3v1h-3zM882 228h3v1h-3zM888 228h3v1h-3zM894 228h3v1h-3zM900 228h3v1h-3zM906 228h3v1h-3zM912 228h3v1h-3zM918 228h3v1h-3zM924 228h3v1h-3zM930 228h3v1h-3zM936 228h3v1h-3zM942 228h3v1h-3zM948 228h3v1h-3zM954 228h3v1h-3zM960 228h3v1h-3zM966 228h3v1h-3zM972 228h3v1h-3zM978 228h3v1h-3zM984 228h3v1h-3zM990 228h1v1h-1z" fill="#808080"/><path d="M61 210h2v1h-2zM66 210h3v1h-3zM72 210h3v1h-3zM78 210h3v1h-3zM84 210h3v1h-3zM90 210h3v1h-3zM96 210h3v1h-3zM102 210h3v1h-3zM108 210h3v1h-3zM114 210h3v1h-3zM120 210h3v1h-3zM126 210h3v1h-3zM132 210h3v1h-3zM138 210h3v1h-3zM144 210h3v1h-3zM150 210h3v1h-3zM156 210h3v1h-3zM162 210h3v1h-3zM168 210h3v1h-3zM174 210h3v1h-3zM180 210h3v1h-3zM186 210h3v1h-3zM192 210h3v1h-3zM198 210h3v1h-3zM204 210h3v1h-3zM210 210h3v1h-3zM216 210h3v1h-3zM222 210h3v1h-3zM228 210h3v1h-3zM234 210h3v1h-3zM240 210h3v1h-3zM246 210h3v1h-3zM252 210h3v1h-3zM258 210h3v1h-3zM264 210h3v1h-3zM270 210h3v1h-3zM276 210h3v1h-3zM282 210h3v1h-3zM288 210h3v1h-3zM294 210h3v1h-3zM300 210h3v1h-3zM306 210h3v1h-3zM312 210h3v1h-3zM318 210h3v1h-3zM324 210h3v1h-3zM330 210h3v1h-3zM336 210h3v1h-3zM342 210h3v1h-3zM348 210h3v1h-3zM354 210h3v1h-3zM360 210h3v1h-3zM366 210h3v1h-3zM372 210h3v1h-3zM378 210h3v1h-3zM384 210h3v1h-3zM390 210h3v1h-3zM396 210h3v1h-3zM402 210h3v1h-3zM408 210h3v1h-3zM414 210h3v1h-3zM420 210h3v1h-3zM426 210h3v1h-3zM432 210h3v1h-3zM438 210h3v1h-3zM444 210h3v1h-3zM450 210h3v1h-3zM456 210h3v1h-3zM462 210h3v1h-3zM468 210h3v1h-3zM474 210h3v1h-3zM480 210h3v1h-3zM486 210h3v1h-3zM492 210h3v1h-3zM498 210h3v1h-3zM504 210h3v1h-3zM510 210h3v1h-3zM516 210h3v1h-3zM522 210h3v1h-3zM528 210h3v1h-3zM534 210h3v1h-3zM540 210h3v1h-3zM546 210h3v1h-3zM552 210h3v1h-3zM558 210h3v1h-3zM564 210h3v1h-3zM570 210h3v1h-3zM576 210h3v1h-3zM582 210h3v1h-3zM588 210h3v1h-3zM594 210h3v1h-3zM600 210h3v1h-3zM606 210h3v1h-3zM612 210h3v1h-3zM618 210h3v1h-3zM624 210h3v1h-3zM630 210h3v1h-3zM636 210h3v1h-3zM642 210h3v1h-3zM648 210h3v1h-3zM654 210h3v1h-3zM660 210h3v1h-3zM666 210h3v1h-3zM672 210h3v1h-3zM678 210h3v1h-3zM684 210h3v1h-3zM690 210h3v1h-3zM696 210h3v1h-3zM702 210h3v1h-3zM708 210h3v1h-3zM714 210h3v1h-3zM720 210h3v1h-3zM726 210h3v1h-3zM732 210h3v1h-3zM738 210h3v1h-3zM744 210h3v1h-3zM750 210h3v1h-3zM756 210h3v1h-3zM762 210h3v1h-3zM768 210h3v1h-3zM774 210h3v1h-3zM780 210h3v1h-3zM786 210h3v1h-3zM792 210h3v1h-3zM798 210h3v1h-3zM804 210h3v1h-3zM810 210h3v1h-3zM816 210h3v1h-3zM822 210h3v1h-3zM828 210h3v1h-3zM834 210h3v1h-3zM840 210h3v1h-3zM846 210h3v1h-3zM852 210h3v1h-3zM858 210h3v1h-3zM864 210h3v1h-3zM870 210h3v1h-3zM876 210h3v1h-3zM882 210h3v1h-3zM888 210h3v1h-3zM894 210h3v1h-3zM900 210h3v1h-3zM906 210h3v1h-3zM912 210h3v1h-3zM918 210h3v1h-3zM924 210h3v1h-3zM930 210h3v1h-3zM936 210h3v1h-3zM942 210h3v1h-3zM948 210h3v1h-3zM954 210h3v1h-3zM960 210h3v1h-3zM966 210h3v1h-3zM972 210h3v1h-3zM978 210h3v1h-3zM984 210h3v1h-3zM990 210h1v1h-1z" fill="#808080"/><path d="M61 219h1V371h-1zM62 234h1V371h-1zM63 253h1V371h-1zM64 241h1V371h-1zM65 197h1V371h-1zM66 238h1V371h-1zM67 196h1V371h-1zM68 246h1V371h-1zM69 242h1V371h-1zM70 245h1V371h-1zM71 196h1V371h-1zM72 234h1V371h-1zM73 235h1V371h-1zM74 241h1V371h-1zM75 237h1V371h-1zM76 227h1V371h-1zM77 202h1V371h-1zM78 226h1V371h-1zM79 245h1V371h-1zM80 203h1V371h-1zM81 237h1V371h-1zM82 232h1V371h-1zM83 242h1V371h-1zM84 246h1V371h-1zM85 232h1V371h-1zM86 260h1V371h-1zM87 273h1V371h-1zM88 210h1V371h-1zM89 278h1V371h-1zM90 206h1V371h-1zM91 197h1V371h-1zM92 217h1V371h-1zM93 242h1V371h-1zM94 197h1V371h-1zM95 223h1V371h-1zM96 243h1V371h-1zM97 253h1V371h-1zM98 273h1V371h-1zM99 264h1V371h-1zM100 265h1V371h-1zM101 257h1V371h-1zM102 258h1V371h-1zM103 267h1V371h-1zM104 225h1V371h-1zM105 260h1V371h-1zM106 261h1V371h-1zM107 240h1V371h-1zM108 276h1V371h-1zM109 260h1V371h-1zM110 268h1V371h-1zM111 223h1V371h-1zM112 202h1V371h-1zM113 271h1V371h-1zM114 277h1V371h-1zM115 260h1V371h-1zM116 246h1V371h-1zM117 266h1V371h-1zM118 235h1V371h-1zM119 272h1V371h-1zM120 262h1V371h-1zM121 293h1V371h-1zM122 267h1V371h-1zM123 266h1V371h-1zM124 244h1V371h-1zM125 238h1V371h-1zM126 263h1V371h-1zM127 281h1V371h-1zM128 276h1V371h-1zM129 268h1V371h-1zM130 255h1V371h-1zM131 262h1V371h-1zM132 263h1V371h-1zM133 267h1V371h-1zM134 259h1V371h-1zM135 270h1V371h-1zM136 272h1V371h-1zM137 273h1V371h-1zM138 274h1V371h-1zM139 268h1V371h-1zM140 286h1V371h-1zM141 192h1V371h-1zM142 246h1V371h-1zM143 252h1V371h-1zM144 260h1V371h-1zM145 242h1V371h-1zM146 278h1V371h-1zM147 248h1V371h-1zM148 250h1V371h-1zM149 260h1V371h-1zM150 274h1V371h-1zM151 284h1V371h-1zM152 270h1V371h-1zM153 239h1V371h-1zM154 272h1V371h-1zM155 253h1V371h-1zM156 221h1V371h-1zM157 235h1V371h-1zM158 214h1V371h-1zM159 291h1V371h-1zM160 266h1V371h-1zM161 288h1V371h-1zM162 269h1V371h-1zM163 267h1V371h-1zM164 265h1V371h-1zM165 287h1V371h-1zM166 286h1V371h-1zM167 300h1V371h-1zM168 296h1V371h-1zM169 295h1V371h-1zM170 286h1V371h-1zM171 315h1V371h-1zM172 277h1V371h-1zM173 255h1V371h-1zM174 268h1V371h-1zM175 302h1V371h-1zM176 286h1V371h-1zM177 280h1V371h-1zM178 259h1V371h-1zM179 287h1V371h-1zM180 300h1V371h-1zM181 292h1V371h-1zM182 301h1V371h-1zM183 289h1V371h-1zM184 291h1V371h-1zM185 278h1V371h-1zM186 287h1V371h-1zM187 291h1V371h-1zM188 273h1V371h-1zM189 276h1V371h-1zM190 277h1V371h-1zM191 287h1V371h-1zM192 296h1V371h-1zM193 298h1V371h-1zM194 279h1V371h-1zM195 294h1V371h-1zM196 302h1V371h-1zM197 320h1V371h-1zM198 304h1V371h-1zM199 271h1V371h-1zM200 307h1V371h-1zM201 304h1V371h-1zM202 297h1V371h-1zM203 321h1V371h-1zM204 292h1V371h-1zM205 302h1V371h-1zM206 293h1V371h-1zM207 294h1V371h-1zM208 300h1V371h-1zM209 294h1V371h-1zM210 313h1V371h-1zM211 313h1V371h-1zM212 313h1V371h-1zM213 300h1V371h-1zM214 305h1V371h-1zM215 300h1V371h-1zM216 316h1V371h-1zM217 286h1V371h-1zM218 298h1V371h-1zM219 293h1V371h-1zM220 314h1V371h-1zM221 286h1V371h-1zM222 329h1V371h-1zM223 323h1V371h-1zM224 304h1V371h-1zM225 298h1V371h-1zM226 284h1V371h-1zM227 296h1V371h-1zM228 310h1V371h-1zM229 327h1V371h-1zM230 305h1V371h-1zM231 295h1V371h-1zM232 292h1V371h-1zM233 322h1V371h-1zM234 340h1V371h-1zM235 264h1V371h-1zM236 323h1V371h-1zM237 304h1V371h-1zM238 299h1V371h-1zM239 324h1V371h-1zM240 333h1V371h-1zM241 327h1V371h-1zM242 311h1V371h-1zM243 304h1V371h-1zM244 300h1V371h-1zM245 291h1V371h-1zM246 296h1V371h-1zM247 299h1V371h-1zM248 311h1V371h-1zM249 296h1V371h-1zM250 310h1V371h-1zM251 304h1V371h-1zM252 302h1V371h-1zM253 329h1V371h-1zM254 296h1V371h-1zM255 308h1V371h-1zM256 316h1V371h-1zM257 288h1V371h-1zM258 314h1V371h-1zM259 317h1V371h-1zM260 324h1V371h-1zM261 315h1V371h-1zM262 290h1V371h-1zM263 335h1V371h-1zM264 322h1V371h-1zM265 332h1V371h-1zM266 302h1V371h-1zM267 305h1V371h-1zM268 305h1V371h-1zM269 297h1V371h-1zM270 291h1V371h-1zM271 300h1V371h-1zM272 309h1V371h-1zM273 317h1V371h-1zM274 327h1V371h-1zM275 285h1V371h-1zM276 323h1V371h-1zM277 294h1V371h-1zM278 304h1V371h-1zM279 314h1V371h-1zM280 314h1V371h-1zM281 323h1V371h-1zM282 318h1V371h-1zM283 306h1V371h-1zM284 327h1V371h-1zM285 299h1V371h-1zM286 308h1V371h-1zM287 317h1V371h-1zM288 313h1V371h-1zM289 292h1V371h-1zM290 312h1V371h-1zM291 316h1V371h-1zM292 314h1V371h-1zM293 314h1V371h-1zM294 317h1V371h-1zM295 319h1V371h-1zM296 321h1V371h-1zM297 323h1V371h-1zM298 301h1V371h-1zM299 314h1V371h-1zM300 333h1V371h-1zM301 333h1V371h-1zM302 309h1V371h-1zM303 305h1V371h-1zM304 323h1V371h-1zM305 337h1V371h-1zM306 318h1V371h-1zM307 314h1V371h-1zM308 316h1V371h-1zM309 320h1V371h-1zM310 314h1V371h-1zM311 331h1V371h-1zM312 320h1V371h-1zM313 330h1V371h-1zM314 325h1V371h-1zM315 330h1V371h-1zM316 307h1V371h-1zM317 304h1V371h-1zM318 317h1V371h-1zM319 327h1V371h-1zM320 323h1V371h-1zM321 316h1V371h-1zM322 316h1V371h-1zM323 311h1V371h-1zM324 326h1V371h-1zM325 314h1V371h-1zM326 309h1V371h-1zM327 296h1V371h-1zM328 322h1V371h-1zM329 324h1V371h-1zM330 327h1V371h-1zM331 331h1V371h-1zM332 314h1V371h-1zM333 314h1V371h-1zM334 333h1V371h-1zM335 333h1V371h-1zM336 325h1V371h-1zM337 320h1V371h-1zM338 332h1V371h-1zM339 321h1V371h-1zM340 323h1V371h-1zM341 348h1V371h-1zM342 328h1V371h-1zM343 329h1V371h-1zM344 332h1V371h-1zM345 333h1V371h-1zM346 336h1V371h-1zM347 326h1V371h-1zM348 317h1V371h-1zM349 320h1V371h-1zM350 332h1V371h-1zM351 324h1V371h-1zM352 311h1V371h-1zM353 350h1V371h-1zM354 323h1V371h-1zM355 338h1V371h-1zM356 337h1V371h-1zM357 329h1V371h-1zM358 320h1V371h-1zM359 340h1V371h-1zM360 334h1V371h-1zM361 325h1V371h-1zM362 335h1V371h-1zM363 308h1V371h-1zM364 332h1V371h-1zM365 323h1V371h-1zM366 336h1V371h-1zM367 333h1V371h-1zM368 305h1V371h-1zM369 322h1V371h-1zM370 331h1V371h-1zM371 308h1V371h-1zM372 316h1V371h-1zM373 320h1V371h-1zM374 340h1V371h-1zM375 330h1V371h-1zM376 331h1V371h-1zM377 324h1V371h-1zM378 333h1V371h-1zM379 340h1V371h-1zM380 332h1V371h-1zM381 323h1V371h-1zM382 316h1V371h-1zM383 316h1V371h-1zM384 313h1V371h-1zM385 322h1V371h-1zM386 305h1V371h-1zM387 304h1V371h-1zM388 315h1V371h-1zM389 324h1V371h-1zM390 314h1V371h-1zM391 330h1V371h-1zM392 304h1V371h-1zM393 315h1V371h-1zM394 305h1V371h-1zM395 322h1V371h-1zM396 320h1V371h-1zM397 328h1V371h-1zM398 324h1V371h-1zM399 322h1V371h-1zM400 320h1V371h-1zM401 295h1V371h-1zM402 329h1V371h-1zM403 324h1V371h-1zM404 306h1V371h-1zM405 299h1V371h-1zM406 286h1V371h-1zM407 296h1V371h-1zM408 331h1V371h-1zM409 302h1V371h-1zM410 324h1V371h-1zM411 318h1V371h-1zM412 319h1V371h-1zM413 327h1V371h-1zM414 333h1V371h-1zM415 331h1V371h-1zM416 331h1V371h-1zM417 320h1V371h-1zM418 312h1V371h-1zM419 304h1V371h-1zM420 307h1V371h-1zM421 310h1V371h-1zM422 316h1V371h-1zM423 296h1V371h-1zM424 315h1V371h-1zM425 332h1V371h-1zM426 309h1V371h-1zM427 320h1V371h-1zM428 310h1V371h-1zM429 326h1V371h-1zM430 349h1V371h-1zM431 319h1V371h-1zM432 312h1V371h-1zM433 319h1V371h-1zM434 339h1V371h-1zM435 323h1V371h-1zM436 330h1V371h-1zM437 314h1V371h-1zM438 330h1V371h-1zM439 314h1V371h-1zM440 322h1V371h-1zM441 308h1V371h-1zM442 314h1V371h-1zM443 290h1V371h-1zM444 314h1V371h-1zM445 326h1V371h-1zM446 332h1V371h-1zM447 297h1V371h-1zM448 307h1V371h-1zM449 290h1V371h-1zM450 307h1V371h-1zM451 321h1V371h-1zM452 327h1V371h-1zM453 341h1V371h-1zM454 326h1V371h-1zM455 296h1V371h-1zM456 323h1V371h-1zM457 314h1V371h-1zM458 339h1V371h-1zM459 304h1V371h-1zM460 310h1V371h-1zM461 293h1V371h-1zM462 284h1V371h-1zM463 295h1V371h-1zM464 302h1V371h-1zM465 306h1V371h-1zM466 299h1V371h-1zM467 320h1V371h-1zM468 304h1V371h-1zM469 322h1V371h-1zM470 302h1V371h-1zM471 322h1V371h-1zM472 313h1V371h-1zM473 317h1V371h-1zM474 327h1V371h-1zM475 288h1V371h-1zM476 322h1V371h-1zM477 317h1V371h-1zM478 314h1V371h-1zM479 319h1V371h-1zM480 310h1V371h-1zM481 316h1V371h-1zM482 292h1V371h-1zM483 315h1V371h-1zM484 306h1V371h-1zM485 322h1V371h-1zM486 314h1V371h-1zM487 323h1V371h-1zM488 318h1V371h-1zM489 319h1V371h-1zM490 318h1V371h-1zM491 332h1V371h-1zM492 320h1V371h-1zM493 314h1V371h-1zM494 304h1V371h-1zM495 299h1V371h-1zM496 302h1V371h-1zM497 289h1V371h-1zM498 304h1V371h-1zM499 317h1V371h-1zM500 304h1V371h-1zM501 310h1V371h-1zM502 326h1V371h-1zM503 320h1V371h-1zM504 305h1V371h-1zM505 304h1V371h-1zM506 305h1V371h-1zM507 306h1V371h-1zM508 312h1V371h-1zM509 307h1V371h-1zM510 306h1V371h-1zM511 320h1V371h-1zM512 302h1V371h-1zM513 299h1V371h-1zM514 315h1V371h-1zM515 299h1V371h-1zM516 311h1V371h-1zM517 329h1V371h-1zM518 331h1V371h-1zM519 316h1V371h-1zM520 316h1V371h-1zM521 329h1V371h-1zM522 297h1V371h-1zM523 326h1V371h-1zM524 289h1V371h-1zM525 318h1V371h-1zM526 307h1V371h-1zM527 292h1V371h-1zM528 310h1V371h-1zM529 318h1V371h-1zM530 306h1V371h-1zM531 322h1V371h-1zM532 299h1V371h-1zM533 318h1V371h-1zM534 323h1V371h-1zM535 312h1V371h-1zM536 305h1V371h-1zM537 307h1V371h-1zM538 320h1V371h-1zM539 322h1V371h-1zM540 330h1V371h-1zM541 331h1V371h-1zM542 311h1V371h-1zM543 311h1V371h-1zM544 287h1V371h-1zM545 296h1V371h-1zM546 333h1V371h-1zM547 323h1V371h-1zM548 333h1V371h-1zM549 307h1V371h-1zM550 310h1V371h-1zM551 277h1V371h-1zM552 316h1V371h-1zM553 327h1V371h-1zM554 304h1V371h-1zM555 320h1V371h-1zM556 316h1V371h-1zM557 284h1V371h-1zM558 317h1V371h-1zM559 330h1V371h-1zM560 314h1V371h-1zM561 333h1V371h-1zM562 310h1V371h-1zM563 340h1V371h-1zM564 313h1V371h-1zM565 321h1V371h-1zM566 310h1V371h-1zM567 312h1V371h-1zM568 316h1V371h-1zM569 321h1V371h-1zM570 330h1V371h-1zM571 330h1V371h-1zM572 322h1V371h-1zM573 322h1V371h-1zM574 333h1V371h-1zM575 333h1V371h-1zM576 304h1V371h-1zM577 314h1V371h-1zM578 304h1V371h-1zM579 312h1V371h-1zM580 305h1V371h-1zM581 310h1V371h-1zM582 334h1V371h-1zM583 328h1V371h-1zM584 323h1V371h-1zM585 284h1V371h-1zM586 315h1V371h-1zM587 326h1V371h-1zM588 332h1V371h-1zM589 319h1V371h-1zM590 332h1V371h-1zM591 314h1V371h-1zM592 311h1V371h-1zM593 314h1V371h-1zM594 335h1V371h-1zM595 300h1V371h-1zM596 298h1V371h-1zM597 314h1V371h-1zM598 327h1V371h-1zM599 339h1V371h-1zM600 340h1V371h-1zM601 331h1V371h-1zM602 339h1V371h-1zM603 322h1V371h-1zM604 347h1V371h-1zM605 338h1V371h-1zM606 326h1V371h-1zM607 332h1V371h-1zM608 334h1V371h-1zM609 332h1V371h-1zM610 314h1V371h-1zM611 324h1V371h-1zM612 314h1V371h-1zM613 340h1V371h-1zM614 335h1V371h-1zM615 322h1V371h-1zM616 314h1V371h-1zM617 317h1V371h-1zM618 311h1V371h-1zM619 328h1V371h-1zM620 332h1V371h-1zM621 348h1V371h-1zM622 328h1V371h-1zM623 340h1V371h-1zM624 327h1V371h-1zM625 347h1V371h-1zM626 325h1V371h-1zM627 317h1V371h-1zM628 343h1V371h-1zM629 341h1V371h-1zM630 343h1V371h-1zM631 331h1V371h-1zM632 322h1V371h-1zM633 331h1V371h-1zM634 315h1V371h-1zM635 340h1V371h-1zM636 347h1V371h-1zM637 340h1V371h-1zM638 308h1V371h-1zM639 333h1V371h-1zM640 344h1V371h-1zM641 326h1V371h-1zM642 340h1V371h-1zM643 329h1V371h-1zM644 331h1V371h-1zM645 330h1V371h-1zM646 324h1V371h-1zM647 339h1V371h-1zM648 332h1V371h-1zM649 340h1V371h-1zM650 338h1V371h-1zM651 348h1V371h-1zM652 325h1V371h-1zM653 349h1V371h-1zM654 311h1V371h-1zM655 329h1V371h-1zM656 326h1V371h-1zM657 340h1V371h-1zM658 340h1V371h-1zM659 336h1V371h-1zM660 304h1V371h-1zM661 308h1V371h-1zM662 318h1V371h-1zM663 328h1V371h-1zM664 296h1V371h-1zM665 316h1V371h-1zM666 299h1V371h-1zM667 326h1V371h-1zM668 314h1V371h-1zM669 322h1V371h-1zM670 278h1V371h-1zM671 316h1V371h-1zM672 325h1V371h-1zM673 292h1V371h-1zM674 319h1V371h-1zM675 326h1V371h-1zM676 320h1V371h-1zM677 322h1V371h-1zM678 320h1V371h-1zM679 324h1V371h-1zM680 338h1V371h-1zM681 324h1V371h-1zM682 331h1V371h-1zM683 331h1V371h-1zM684 322h1V371h-1zM685 323h1V371h-1zM686 349h1V371h-1zM687 318h1V371h-1zM688 322h1V371h-1zM689 346h1V371h-1zM690 337h1V371h-1zM691 333h1V371h-1zM692 331h1V371h-1zM693 344h1V371h-1zM694 343h1V371h-1zM695 347h1V371h-1zM696 318h1V371h-1zM697 346h1V371h-1zM698 337h1V371h-1zM699 347h1V371h-1zM700 340h1V371h-1zM701 340h1V371h-1zM702 341h1V371h-1zM703 350h1V371h-1zM704 314h1V371h-1zM705 332h1V371h-1zM706 307h1V371h-1zM707 338h1V371h-1zM708 328h1V371h-1zM709 340h1V371h-1zM710 332h1V371h-1zM711 341h1V371h-1zM712 325h1V371h-1zM713 320h1V371h-1zM714 302h1V371h-1zM715 323h1V371h-1zM716 340h1V371h-1zM717 340h1V371h-1zM718 332h1V371h-1zM719 304h1V371h-1zM720 332h1V371h-1zM721 309h1V371h-1zM722 323h1V371h-1zM723 322h1V371h-1zM724 314h1V371h-1zM725 322h1V371h-1zM726 322h1V371h-1zM727 336h1V371h-1zM728 322h1V371h-1zM729 298h1V371h-1zM730 322h1V371h-1zM731 334h1V371h-1zM732 332h1V371h-1zM733 337h1V371h-1zM734 346h1V371h-1zM735 339h1V371h-1zM736 344h1V371h-1zM737 346h1V371h-1zM738 328h1V371h-1zM739 350h1V371h-1zM740 333h1V371h-1zM741 343h1V371h-1zM742 336h1V371h-1zM743 349h1V371h-1zM744 333h1V371h-1zM745 338h1V371h-1zM746 328h1V371h-1zM747 337h1V371h-1zM748 335h1V371h-1zM749 332h1V371h-1zM750 332h1V371h-1zM751 319h1V371h-1zM752 327h1V371h-1zM753 340h1V371h-1zM754 340h1V371h-1zM755 340h1V371h-1zM756 348h1V371h-1zM757 356h1V371h-1zM758 337h1V371h-1zM759 344h1V371h-1zM760 334h1V371h-1zM761 331h1V371h-1zM762 336h1V371h-1zM763 345h1V371h-1zM764 338h1V371h-1zM765 343h1V371h-1zM766 343h1V371h-1zM767 325h1V371h-1zM768 329h1V371h-1zM769 332h1V371h-1zM770 340h1V371h-1zM771 326h1V371h-1zM772 333h1V371h-1zM773 337h1V371h-1zM774 345h1V371h-1zM775 337h1V371h-1zM776 347h1V371h-1zM777 341h1V371h-1zM778 353h1V371h-1zM779 336h1V371h-1zM780 337h1V371h-1zM781 336h1V371h-1zM782 318h1V371h-1zM783 332h1V371h-1zM784 350h1V371h-1zM785 331h1V371h-1zM786 350h1V371h-1zM787 332h1V371h-1zM788 350h1V371h-1zM789 336h1V371h-1zM790 343h1V371h-1zM791 333h1V371h-1zM792 340h1V371h-1zM793 342h1V371h-1zM794 347h1V371h-1zM795 340h1V371h-1zM796 342h1V371h-1zM797 340h1V371h-1zM798 339h1V371h-1zM799 350h1V371h-1zM800 337h1V371h-1zM801 343h1V371h-1zM802 330h1V371h-1zM803 332h1V371h-1zM804 342h1V371h-1zM805 334h1V371h-1zM806 333h1V371h-1zM807 332h1V371h-1zM808 332h1V371h-1zM809 331h1V371h-1zM810 329h1V371h-1zM811 334h1V371h-1zM812 353h1V371h-1zM813 345h1V371h-1zM814 345h1V371h-1zM815 336h1V371h-1zM816 347h1V371h-1zM817 336h1V371h-1zM818 356h1V371h-1zM819 343h1V371h-1zM820 328h1V371h-1zM821 340h1V371h-1zM822 339h1V371h-1zM823 353h1V371h-1zM824 337h1V371h-1zM825 337h1V371h-1zM826 340h1V371h-1zM827 338h1V371h-1zM828 353h1V371h-1zM829 330h1V371h-1zM830 363h1V371h-1zM831 332h1V371h-1zM832 348h1V371h-1zM833 356h1V371h-1zM834 358h1V371h-1zM835 340h1V371h-1zM836 347h1V371h-1zM837 346h1V371h-1zM838 356h1V371h-1zM839 351h1V371h-1zM840 350h1V371h-1zM841 341h1V371h-1zM842 341h1V371h-1zM843 347h1V371h-1zM844 340h1V371h-1zM845 337h1V371h-1zM846 357h1V371h-1zM847 350h1V371h-1zM848 348h1V371h-1zM849 350h1V371h-1zM850 358h1V371h-1zM851 350h1V371h-1zM852 358h1V371h-1zM853 347h1V371h-1zM854 353h1V371h-1zM855 353h1V371h-1zM856 352h1V371h-1zM857 350h1V371h-1zM858 356h1V371h-1zM859 350h1V371h-1zM860 350h1V371h-1zM861 335h1V371h-1zM862 348h1V371h-1zM863 350h1V371h-1zM864 347h1V371h-1zM865 353h1V371h-1zM866 347h1V371h-1zM867 354h1V371h-1zM868 350h1V371h-1zM869 350h1V371h-1zM870 357h1V371h-1zM871 358h1V371h-1zM872 355h1V371h-1zM873 345h1V371h-1zM874 350h1V371h-1zM875 350h1V371h-1zM876 342h1V371h-1zM877 350h1V371h-1zM878 347h1V371h-1zM879 342h1V371h-1zM880 345h1V371h-1zM881 341h1V371h-1zM882 338h1V371h-1zM883 344h1V371h-1zM884 332h1V371h-1zM885 344h1V371h-1zM886 350h1V371h-1zM887 356h1V371h-1zM888 353h1V371h-1zM889 355h1V371h-1zM890 349h1V371h-1zM891 356h1V371h-1zM892 350h1V371h-1zM893 355h1V371h-1zM894 350h1V371h-1zM895 328h1V371h-1zM896 334h1V371h-1zM897 332h1V371h-1zM898 358h1V371h-1zM899 357h1V371h-1zM900 347h1V371h-1zM901 356h1V371h-1zM902 354h1V371h-1zM903 350h1V371h-1zM904 350h1V371h-1zM905 351h1V371h-1zM906 343h1V371h-1zM907 351h1V371h-1zM908 340h1V371h-1zM909 358h1V371h-1zM910 347h1V371h-1zM911 344h1V371h-1zM912 358h1V371h-1zM913 340h1V371h-1zM914 353h1V371h-1zM915 351h1V371h-1zM916 345h1V371h-1zM917 326h1V371h-1zM918 351h1V371h-1zM919 353h1V371h-1zM920 347h1V371h-1zM921 353h1V371h-1zM922 355h1V371h-1zM923 355h1V371h-1zM924 348h1V371h-1zM925 358h1V371h-1zM926 328h1V371h-1zM927 353h1V371h-1zM928 347h1V371h-1zM929 350h1V371h-1zM930 340h1V371h-1zM931 351h1V371h-1zM932 345h1V371h-1zM933 353h1V371h-1zM934 345h1V371h-1zM935 350h1V371h-1zM936 354h1V371h-1zM937 342h1V371h-1zM938 359h1V371h-1zM939 349h1V371h-1zM940 333h1V371h-1zM941 352h1V371h-1zM942 343h1V371h-1zM943 353h1V371h-1zM944 354h1V371h-1zM945 350h1V371h-1zM946 354h1V371h-1zM947 347h1V371h-1zM948 334h1V371h-1zM949 333h1V371h-1zM950 336h1V371h-1zM951 350h1V371h-1zM952 340h1V371h-1zM953 352h1V371h-1zM954 353h1V371h-1zM955 341h1V371h-1zM956 351h1V371h-1zM957 335h1V371h-1zM958 345h1V371h-1zM959 358h1V371h-1zM960 347h1V371h-1zM961 350h1V371h-1zM962 338h1V371h-1zM963 350h1V371h-1zM964 354h1V371h-1zM965 341h1V371h-1zM966 354h1V371h-1zM967 350h1V371h-1zM968 340h1V371h-1zM969 350h1V371h-1zM970 351h1V371h-1zM971 354h1V371h-1zM972 358h1V371h-1zM973 349h1V371h-1zM974 345h1V371h-1zM975 347h1V371h-1zM976 351h1V371h-1zM977 347h1V371h-1zM978 344h1V371h-1zM979 347h1V371h-1zM980 353h1V371h-1zM981 348h1V371h-1zM982 353h1V371h-1zM983 349h1V371h-1zM984 348h1V371h-1zM985 354h1V371h-1zM986 359h1V371h-1zM987 340h1V371h-1zM988 347h1V371h-1zM989 358h1V371h-1zM990 347h1V371h-1z" fill="#3366FF"/><rect x="59" y="192" width="2" height="181" fill="#000"/><rect x="991" y="192" width="2" height="181" fill="#000"/><rect x="59" y="371" width="934" height="2" fill="#000"/><path d="M59 192h1v1h-1zM63 192h3v1h-3zM69 192h3v1h-3zM75 192h3v1h-3zM81 192h3v1h-3zM87 192h3v1h-3zM93 192h3v1h-3zM99 192h3v1h-3zM105 192h3v1h-3zM111 192h3v1h-3zM117 192h3v1h-3zM123 192h3v1h-3zM129 192h3v1h-3zM135 192h3v1h-3zM141 192h3v1h-3zM147 192h3v1h-3zM153 192h3v1h-3zM159 192h3v1h-3zM165 192h3v1h-3zM171 192h3v1h-3zM177 192h3v1h-3zM183 192h3v1h-3zM189 192h3v1h-3zM195 192h3v1h-3zM201 192h3v1h-3zM207 192h3v1h-3zM213 192h3v1h-3zM219 192h3v1h-3zM225 192h3v1h-3zM231 192h3v1h-3zM237 192h3v1h-3zM243 192h3v1h-3zM249 192h3v1h-3zM255 192h3v1h-3zM261 192h3v1h-3zM267 192h3v1h-3zM273 192h3v1h-3zM279 192h3v1h-3zM285 192h3v1h-3zM291 192h3v1h-3zM297 192h3v1h-3zM303 192h3v1h-3zM309 192h3v1h-3zM315 192h3v1h-3zM321 192h3v1h-3zM327 192h3v1h-3zM333 192h3v1h-3zM339 192h3v1h-3zM345 192h3v1h-3zM351 192h3v1h-3zM357 192h3v1h-3zM363 192h3v1h-3zM369 192h3v1h-3zM375 192h3v1h-3zM381 192h3v1h-3zM387 192h3v1h-3zM393 192h3v1h-3zM399 192h3v1h-3zM405 192h3v1h-3zM411 192h3v1h-3zM417 192h3v1h-3zM423 192h3v1h-3zM429 192h3v1h-3zM435 192h3v1h-3zM441 192h3v1h-3zM447 192h3v1h-3zM453 192h3v1h-3zM459 192h3v1h-3zM465 192h3v1h-3zM471 192h3v1h-3zM477 192h3v1h-3zM483 192h3v1h-3zM489 192h3v1h-3zM495 192h3v1h-3zM501 192h3v1h-3zM507 192h3v1h-3zM513 192h3v1h-3zM519 192h3v1h-3zM525 192h3v1h-3zM531 192h3v1h-3zM537 192h3v1h-3zM543 192h3v1h-3zM549 192h3v1h-3zM555 192h3v1h-3zM561 192h3v1h-3zM567 192h3v1h-3zM573 192h3v1h-3zM579 192h3v1h-3zM585 192h3v1h-3zM591 192h3v1h-3zM597 192h3v1h-3zM603 192h3v1h-3zM609 192h3v1h-3zM615 192h3v1h-3zM621 192h3v1h-3zM627 192h3v1h-3zM633 192h3v1h-3zM639 192h3v1h-3zM645 192h3v1h-3zM651 192h3v1h-3zM657 192h3v1h-3zM663 192h3v1h-3zM669 192h3v1h-3zM675 192h3v1h-3zM681 192h3v1h-3zM687 192h3v1h-3zM693 192h3v1h-3zM699 192h3v1h-3zM705 192h3v1h-3zM711 192h3v1h-3zM717 192h3v1h-3zM723 192h3v1h-3zM729 192h3v1h-3zM735 192h3v1h-3zM741 192h3v1h-3zM747 192h3v1h-3zM753 192h3v1h-3zM759 192h3v1h-3zM765 192h3v1h-3zM771 192h3v1h-3zM777 192h3v1h-3zM783 192h3v1h-3zM789 192h3v1h-3zM795 192h3v1h-3zM801 192h3v1h-3zM807 192h3v1h-3zM813 192h3v1h-3zM819 192h3v1h-3zM825 192h3v1h-3zM831 192h3v1h-3zM837 192h3v1h-3zM843 192h3v1h-3zM849 192h3v1h-3zM855 192h3v1h-3zM861 192h3v1h-3zM867 192h3v1h-3zM873 192h3v1h-3zM879 192h3v1h-3zM885 192h3v1h-3zM891 192h3v1h-3zM897 192h3v1h-3zM903 192h3v1h-3zM909 192h3v1h-3zM915 192h3v1h-3zM921 192h3v1h-3zM927 192h3v1h-3zM933 192h3v1h-3zM939 192h3v1h-3zM945 192h3v1h-3zM951 192h3v1h-3zM957 192h3v1h-3zM963 192h3v1h-3zM969 192h3v1h-3zM975 192h3v1h-3zM981 192h3v1h-3zM987 192h3v1h-3z" fill="#000"/><path d="M61 192h2v1h-2zM66 192h3v1h-3zM72 192h3v1h-3zM78 192h3v1h-3zM84 192h3v1h-3zM90 192h3v1h-3zM96 192h3v1h-3zM102 192h3v1h-3zM108 192h3v1h-3zM114 192h3v1h-3zM120 192h3v1h-3zM126 192h3v1h-3zM132 192h3v1h-3zM138 192h3v1h-3zM144 192h3v1h-3zM150 192h3v1h-3zM156 192h3v1h-3zM162 192h3v1h-3zM168 192h3v1h-3zM174 192h3v1h-3zM180 192h3v1h-3zM186 192h3v1h-3zM192 192h3v1h-3zM198 192h3v1h-3zM204 192h3v1h-3zM210 192h3v1h-3zM216 192h3v1h-3zM222 192h3v1h-3zM228 192h3v1h-3zM234 192h3v1h-3zM240 192h3v1h-3zM246 192h3v1h-3zM252 192h3v1h-3zM258 192h3v1h-3zM264 192h3v1h-3zM270 192h3v1h-3zM276 192h3v1h-3zM282 192h3v1h-3zM288 192h3v1h-3zM294 192h3v1h-3zM300 192h3v1h-3zM306 192h3v1h-3zM312 192h3v1h-3zM318 192h3v1h-3zM324 192h3v1h-3zM330 192h3v1h-3zM336 192h3v1h-3zM342 192h3v1h-3zM348 192h3v1h-3zM354 192h3v1h-3zM360 192h3v1h-3zM366 192h3v1h-3zM372 192h3v1h-3zM378 192h3v1h-3zM384 192h3v1h-3zM390 192h3v1h-3zM396 192h3v1h-3zM402 192h3v1h-3zM408 192h3v1h-3zM414 192h3v1h-3zM420 192h3v1h-3zM426 192h3v1h-3zM432 192h3v1h-3zM438 192h3v1h-3zM444 192h3v1h-3zM450 192h3v1h-3zM456 192h3v1h-3zM462 192h3v1h-3zM468 192h3v1h-3zM474 192h3v1h-3zM480 192h3v1h-3zM486 192h3v1h-3zM492 192h3v1h-3zM498 192h3v1h-3zM504 192h3v1h-3zM510 192h3v1h-3zM516 192h3v1h-3zM522 192h3v1h-3zM528 192h3v1h-3zM534 192h3v1h-3zM540 192h3v1h-3zM546 192h3v1h-3zM552 192h3v1h-3zM558 192h3v1h-3zM564 192h3v1h-3zM570 192h3v1h-3zM576 192h3v1h-3zM582 192h3v1h-3zM588 192h3v1h-3zM594 192h3v1h-3zM600 192h3v1h-3zM606 192h3v1h-3zM612 192h3v1h-3zM618 192h3v1h-3zM624 192h3v1h-3zM630 192h3v1h-3zM636 192h3v1h-3zM642 192h3v1h-3zM648 192h3v1h-3zM654 192h3v1h-3zM660 192h3v1h-3zM666 192h3v1h-3zM672 192h3v1h-3zM678 192h3v1h-3zM684 192h3v1h-3zM690 192h3v1h-3zM696 192h3v1h-3zM702 192h3v1h-3zM708 192h3v1h-3zM714 192h3v1h-3zM720 192h3v1h-3zM726 192h3v1h-3zM732 192h3v1h-3zM738 192h3v1h-3zM744 192h3v1h-3zM750 192h3v1h-3zM756 192h3v1h-3zM762 192h3v1h-3zM768 192h3v1h-3zM774 192h3v1h-3zM780 192h3v1h-3zM786 192h3v1h-3zM792 192h3v1h-3zM798 192h3v1h-3zM804 192h3v1h-3zM810 192h3v1h-3zM816 192h3v1h-3zM822 192h3v1h-3zM828 192h3v1h-3zM834 192h3v1h-3zM840 192h3v1h-3zM846 192h3v1h-3zM852 192h3v1h-3zM858 192h3v1h-3zM864 192h3v1h-3zM870 192h3v1h-3zM876 192h3v1h-3zM882 192h3v1h-3zM888 192h3v1h-3zM894 192h3v1h-3zM900 192h3v1h-3zM906 192h3v1h-3zM912 192h3v1h-3zM918 192h3v1h-3zM924 192h3v1h-3zM930 192h3v1h-3zM936 192h3v1h-3zM942 192h3v1h-3zM948 192h3v1h-3zM954 192h3v1h-3zM960 192h3v1h-3zM966 192h3v1h-3zM972 192h3v1h-3zM978 192h3v1h-3zM984 192h3v1h-3zM990 192h1v1h-1z" fill="#A0A0A0"/><rect x="56" y="372" width="7" height="1" fill="#808080"/><rect x="989" y="372" width="8" height="1" fill="#808080"/><rect x="58" y="368" width="2" height="1" fill="#808080"/><rect x="992" y="368" width="3" height="1" fill="#808080"/><rect x="58" y="363" width="2" height="1" fill="#808080"/><rect x="992" y="363" width="3" height="1" fill="#808080"/><rect x="58" y="358" width="2" height="1" fill="#808080"/><rect x="992" y="358" width="3" height="1" fill="#808080"/><rect x="56" y="354" width="7" height="1" fill="#808080"/><rect x="989" y="354" width="8" height="1" fill="#808080"/><rect x="58" y="350" width="2" height="1" fill="#808080"/><rect x="992" y="350" width="3" height="1" fill="#808080"/><rect x="58" y="345" width="2" height="1" fill="#808080"/><rect x="992" y="345" width="3" height="1" fill="#808080"/><rect x="58" y="340" width="2" height="1" fill="#808080"/><rect x="992" y="340" width="3" height="1" fill="#808080"/><rect x="56" y="336" width="7" height="1" fill="#808080"/><rect x="989" y="336" width="8" height="1" fill="#808080"/><rect x="58" y="332" width="2" height="1" fill="#808080"/><rect x="992" y="332" width="3" height="1" fill="#808080"/><rect x="58" y="327" width="2" height="1" fill="#808080"/><rect x="992" y="327" width="3" height="1" fill="#808080"/><rect x="58" y="322" width="2" height="1" fill="#808080"/><rect x="992" y="322" width="3" height="1" fill="#808080"/><rect x="56" y="318" width="7" height="1" fill="#808080"/><rect x="989" y="318" width="8" height="1" fill="#808080"/><rect x="58" y="314" width="2" height="1" fill="#808080"/><rect x="992" y="314" width="3" height="1" fill="#808080"/><rect x="58" y="309" width="2" height="1" fill="#808080"/><rect x="992" y="309" width="3" height="1" fill="#808080"/><rect x="58" y="304" width="2" height="1" fill="#808080"/><rect x="992" y="304" width="3" height="1" fill="#808080"/><rect x="56" y="300" width="7" height="1" fill="#808080"/><rect x="989" y="300" width="8" height="1" fill="#808080"/><rect x="58" y="296" width="2" height="1" fill="#808080"/><rect x="992" y="296" width="3" height="1" fill="#808080"/><rect x="58" y="291" width="2" height="1" fill="#808080"/><rect x="992" y="291" width="3" height="1" fill="#808080"/><rect x="58" y="286" width="2" height="1" fill="#808080"/><rect x="992" y="286" width="3" height="1" fill="#808080"/><rect x="56" y="282" width="7" height="1" fill="#808080"/><rect x="989" y="282" width="8" height="1" fill="#808080"/><rect x="58" y="278" width="2" height="1" fill="#808080"/><rect x="992" y="278" width="3" height="1" fill="#808080"/><rect x="58" y="273" width="2" height="1" fill="#808080"/><rect x="992" y="273" width="3" height="1" fill="#808080"/><rect x="58" y="268" width="2" height="1" fill="#808080"/><rect x="992" y="268" width="3" height="1" fill="#808080"/><rect x="56" y="264" width="7" height="1" fill="#808080"/><rect x="989" y="264" width="8" height="1" fill="#808080"/><rect x="58" y="260" width="2" height="1" fill="#808080"/><rect x="992" y="260" width="3" height="1" fill="#808080"/><rect x="58" y="255" width="2" height="1" fill="#808080"/><rect x="992" y="255" width="3" height="1" fill="#808080"/><rect x="58" y="250" width="2" height="1" fill="#808080"/><rect x="992" y="250" width="3" height="1" fill="#808080"/><rect x="56" y="246" width="7" height="1" fill="#808080"/><rect x="989" y="246" width="8" height="1" fill="#808080"/><rect x="58" y="242" width="2" height="1" fill="#808080"/><rect x="992" y="242" width="3" height="1" fill="#808080"/><rect x="58" y="237" width="2" height="1" fill="#808080"/><rect x="992" y="237" width="3" height="1" fill="#808080"/><rect x="58" y="232" width="2" height="1" fill="#808080"/><rect x="992" y="232" width="3" height="1" fill="#808080"/><rect x="56" y="228" width="7" height="1" fill="#808080"/><rect x="989" y="228" width="8" height="1" fill="#808080"/><rect x="58" y="224" width="2" height="1" fill="#808080"/><rect x="992" y="224" width="3" height="1" fill="#808080"/><rect x="58" y="219" width="2" height="1" fill="#808080"/><rect x="992" y="219" width="3" height="1" fill="#808080"/><rect x="58" y="214" width="2" height="1" fill="#808080"/><rect x="992" y="214" width="3" height="1" fill="#808080"/><rect x="56" y="210" width="7" height="1" fill="#808080"/><rect x="989" y="210" width="8" height="1" fill="#808080"/><rect x="58" y="206" width="2" height="1" fill="#808080"/><rect x="992" y="206" width="3" height="1" fill="#808080"/><rect x="58" y="201" width="2" height="1" fill="#808080"/><rect x="992" y="201" width="3" height="1" fill="#808080"/><rect x="58" y="196" width="2" height="1" fill="#808080"/><rect x="992" y="196" width="3" height="1" fill="#808080"/><rect x="56" y="192" width="7" height="1" fill="#808080"/><rect x="989" y="192" width="8" height="1" fill="#808080"/><path d="M60 372h3v1h-3zM66 372h3v1h-3zM72 372h3v1h-3zM78 372h3v1h-3zM84 372h3v1h-3zM90 372h3v1h-3zM96 372h3v1h-3zM102 372h3v1h-3zM108 372h3v1h-3zM114 372h3v1h-3zM120 372h3v1h-3zM126 372h3v1h-3zM132 372h3v1h-3zM138 372h3v1h-3zM144 372h3v1h-3zM150 372h3v1h-3zM156 372h3v1h-3zM162 372h3v1h-3zM168 372h3v1h-3zM174 372h3v1h-3zM180 372h3v1h-3zM186 372h3v1h-3zM192 372h3v1h-3zM198 372h3v1h-3zM204 372h3v1h-3zM210 372h3v1h-3zM216 372h3v1h-3zM222 372h3v1h-3zM228 372h3v1h-3zM234 372h3v1h-3zM240 372h3v1h-3zM246 372h3v1h-3zM252 372h3v1h-3zM258 372h3v1h-3zM264 372h3v1h-3zM270 372h3v1h-3zM276 372h3v1h-3zM282 372h3v1h-3zM288 372h3v1h-3zM294 372h3v1h-3zM300 372h3v1h-3zM306 372h3v1h-3zM312 372h3v1h-3zM318 372h3v1h-3zM324 372h3v1h-3zM330 372h3v1h-3zM336 372h3v1h-3zM342 372h3v1h-3zM348 372h3v1h-3zM354 372h3v1h-3zM360 372h3v1h-3zM366 372h3v1h-3zM372 372h3v1h-3zM378 372h3v1h-3zM384 372h3v1h-3zM390 372h3v1h-3zM396 372h3v1h-3zM402 372h3v1h-3zM408 372h3v1h-3zM414 372h3v1h-3zM420 372h3v1h-3zM426 372h3v1h-3zM432 372h3v1h-3zM438 372h3v1h-3zM444 372h3v1h-3zM450 372h3v1h-3zM456 372h3v1h-3zM462 372h3v1h-3zM468 372h3v1h-3zM474 372h3v1h-3zM480 372h3v1h-3zM486 372h3v1h-3zM492 372h3v1h-3zM498 372h3v1h-3zM504 372h3v1h-3zM510 372h3v1h-3zM516 372h3v1h-3zM522 372h3v1h-3zM528 372h3v1h-3zM534 372h3v1h-3zM540 372h3v1h-3zM546 372h3v1h-3zM552 372h3v1h-3zM558 372h3v1h-3zM564 372h3v1h-3zM570 372h3v1h-3zM576 372h3v1h-3zM582 372h3v1h-3zM588 372h3v1h-3zM594 372h3v1h-3zM600 372h3v1h-3zM606 372h3v1h-3zM612 372h3v1h-3zM618 372h3v1h-3zM624 372h3v1h-3zM630 372h3v1h-3zM636 372h3v1h-3zM642 372h3v1h-3zM648 372h3v1h-3zM654 372h3v1h-3zM660 372h3v1h-3zM666 372h3v1h-3zM672 372h3v1h-3zM678 372h3v1h-3zM684 372h3v1h-3zM690 372h3v1h-3zM696 372h3v1h-3zM702 372h3v1h-3zM708 372h3v1h-3zM714 372h3v1h-3zM720 372h3v1h-3zM726 372h3v1h-3zM732 372h3v1h-3zM738 372h3v1h-3zM744 372h3v1h-3zM750 372h3v1h-3zM756 372h3v1h-3zM762 372h3v1h-3zM768 372h3v1h-3zM774 372h3v1h-3zM780 372h3v1h-3zM786 372h3v1h-3zM792 372h3v1h-3zM798 372h3v1h-3zM804 372h3v1h-3zM810 372h3v1h-3zM816 372h3v1h-3zM822 372h3v1h-3zM828 372h3v1h-3zM834 372h3v1h-3zM840 372h3v1h-3zM846 372h3v1h-3zM852 372h3v1h-3zM858 372h3v1h-3zM864 372h3v1h-3zM870 372h3v1h-3zM876 372h3v1h-3zM882 372h3v1h-3zM888 372h3v1h-3zM894 372h3v1h-3zM900 372h3v1h-3zM906 372h3v1h-3zM912 372h3v1h-3zM918 372h3v1h-3zM924 372h3v1h-3zM930 372h3v1h-3zM936 372h3v1h-3zM942 372h3v1h-3zM948 372h3v1h-3zM954 372h3v1h-3zM960 372h3v1h-3zM966 372h3v1h-3zM972 372h3v1h-3zM978 372h3v1h-3zM984 372h3v1h-3zM990 372h3v1h-3z" fill="#A0A0A0"/><rect x="60" y="372" width="1" height="5" fill="#808080"/><rect x="69" y="373" width="1" height="2" fill="#808080"/><rect x="78" y="373" width="1" height="2" fill="#808080"/><rect x="86" y="373" width="1" height="2" fill="#808080"/><rect x="95" y="372" width="1" height="5" fill="#808080"/><rect x="106" y="373" width="1" height="2" fill="#808080"/><rect x="117" y="373" width="1" height="2" fill="#808080"/><rect x="128" y="373" width="1" height="2" fill="#808080"/><rect x="139" y="372" width="1" height="5" fill="#808080"/><rect x="150" y="373" width="1" height="2" fill="#808080"/><rect x="161" y="373" width="1" height="2" fill="#808080"/><rect x="172" y="373" width="1" height="2" fill="#808080"/><rect x="184" y="372" width="1" height="5" fill="#808080"/><rect x="194" y="373" width="1" height="2" fill="#808080"/><rect x="206" y="373" width="1" height="2" fill="#808080"/><rect x="216" y="373" width="1" height="2" fill="#808080"/><rect x="228" y="372" width="1" height="5" fill="#808080"/><rect x="238" y="373" width="1" height="2" fill="#808080"/><rect x="250" y="373" width="1" height="2" fill="#808080"/><rect x="260" y="373" width="1" height="2" fill="#808080"/><rect x="272" y="372" width="1" height="5" fill="#808080"/><rect x="283" y="373" width="1" height="2" fill="#808080"/><rect x="294" y="373" width="1" height="2" fill="#808080"/><rect x="306" y="373" width="1" height="2" fill="#808080"/><rect x="317" y="372" width="1" height="5" fill="#808080"/><rect x="328" y="373" width="1" height="2" fill="#808080"/><rect x="339" y="373" width="1" height="2" fill="#808080"/><rect x="350" y="373" width="1" height="2" fill="#808080"/><rect x="361" y="372" width="1" height="5" fill="#808080"/><rect x="372" y="373" width="1" height="2" fill="#808080"/><rect x="384" y="373" width="1" height="2" fill="#808080"/><rect x="396" y="373" width="1" height="2" fill="#808080"/><rect x="407" y="372" width="1" height="5" fill="#808080"/><rect x="418" y="373" width="1" height="2" fill="#808080"/><rect x="430" y="373" width="1" height="2" fill="#808080"/><rect x="442" y="373" width="1" height="2" fill="#808080"/><rect x="453" y="372" width="1" height="5" fill="#808080"/><rect x="465" y="373" width="1" height="2" fill="#808080"/><rect x="478" y="373" width="1" height="2" fill="#808080"/><rect x="490" y="373" width="1" height="2" fill="#808080"/><rect x="502" y="372" width="1" height="5" fill="#808080"/><rect x="516" y="373" width="1" height="2" fill="#808080"/><rect x="529" y="373" width="1" height="2" fill="#808080"/><rect x="542" y="373" width="1" height="2" fill="#808080"/><rect x="556" y="372" width="1" height="5" fill="#808080"/><rect x="568" y="373" width="1" height="2" fill="#808080"/><rect x="581" y="373" width="1" height="2" fill="#808080"/><rect x="594" y="373" width="1" height="2" fill="#808080"/><rect x="606" y="372" width="1" height="5" fill="#808080"/><rect x="619" y="373" width="1" height="2" fill="#808080"/><rect x="632" y="373" width="1" height="2" fill="#808080"/><rect x="644" y="373" width="1" height="2" fill="#808080"/><rect x="656" y="372" width="1" height="5" fill="#808080"/><rect x="669" y="373" width="1" height="2" fill="#808080"/><rect x="682" y="373" width="1" height="2" fill="#808080"/><rect x="694" y="373" width="1" height="2" fill="#808080"/><rect x="706" y="372" width="1" height="5" fill="#808080"/><rect x="720" y="373" width="1" height="2" fill="#808080"/><rect x="733" y="373" width="1" height="2" fill="#808080"/><rect x="746" y="373" width="1" height="2" fill="#808080"/><rect x="760" y="372" width="1" height="5" fill="#808080"/><rect x="772" y="373" width="1" height="2" fill="#808080"/><rect x="785" y="373" width="1" height="2" fill="#808080"/><rect x="798" y="373" width="1" height="2" fill="#808080"/><rect x="811" y="372" width="1" height="5" fill="#808080"/><rect x="824" y="373" width="1" height="2" fill="#808080"/><rect x="838" y="373" width="1" height="2" fill="#808080"/><rect x="851" y="373" width="1" height="2" fill="#808080"/><rect x="864" y="372" width="1" height="5" fill="#808080"/><rect x="877" y="373" width="1" height="2" fill="#808080"/><rect x="890" y="373" width="1" height="2" fill="#808080"/><rect x="902" y="373" width="1" height="2" fill="#808080"/><rect x="914" y="372" width="1" height="5" fill="#808080"/><rect x="927" y="373" width="1" height="2" fill="#808080"/><rect x="940" y="373" width="1" height="2" fill="#808080"/><rect x="952" y="373" width="1" height="2" fill="#808080"/><rect x="964" y="372" width="1" height="5" fill="#808080"/><rect x="973" y="373" width="1" height="2" fill="#808080"/><rect x="982" y="373" width="1" height="2" fill="#808080"/><path d="M520 177h5v1h-5zM520 178h2v7h-2zM524 178h2v3h-2zM522 181h3v1h-3zM527 177h4v1h-4zM528 178h2v6h-2zM527 184h4v1h-4z" fill="#000080"/><rect x="55" y="430" width="942" height="178" fill="#F0F0FF"/><path d="M55 588h2v1h-2zM60 588h3v1h-3zM66 588h3v1h-3zM72 588h3v1h-3zM78 588h3v1h-3zM84 588h3v1h-3zM90 588h3v1h-3zM96 588h3v1h-3zM102 588h3v1h-3zM108 588h3v1h-3zM114 588h3v1h-3zM120 588h3v1h-3zM126 588h3v1h-3zM132 588h3v1h-3zM138 588h3v1h-3zM144 588h3v1h-3zM150 588h3v1h-3zM156 588h3v1h-3zM162 588h3v1h-3zM168 588h3v1h-3zM174 588h3v1h-3zM180 588h3v1h-3zM186 588h3v1h-3zM192 588h3v1h-3zM198 588h3v1h-3zM204 588h3v1h-3zM210 588h3v1h-3zM216 588h3v1h-3zM222 588h3v1h-3zM228 588h3v1h-3zM234 588h3v1h-3zM240 588h3v1h-3zM246 588h3v1h-3zM252 588h3v1h-3zM258 588h3v1h-3zM264 588h3v1h-3zM270 588h3v1h-3zM276 588h3v1h-3zM282 588h3v1h-3zM288 588h3v1h-3zM294 588h3v1h-3zM300 588h3v1h-3zM306 588h3v1h-3zM312 588h3v1h-3zM318 588h3v1h-3zM324 588h3v1h-3zM330 588h3v1h-3zM336 588h3v1h-3zM342 588h3v1h-3zM348 588h3v1h-3zM354 588h3v1h-3zM360 588h3v1h-3zM366 588h3v1h-3zM372 588h3v1h-3zM378 588h3v1h-3zM384 588h3v1h-3zM390 588h3v1h-3zM396 588h3v1h-3zM402 588h3v1h-3zM408 588h3v1h-3zM414 588h3v1h-3zM420 588h3v1h-3zM426 588h3v1h-3zM432 588h3v1h-3zM438 588h3v1h-3zM444 588h3v1h-3zM450 588h3v1h-3zM456 588h3v1h-3zM462 588h3v1h-3zM468 588h3v1h-3zM474 588h3v1h-3zM480 588h3v1h-3zM486 588h3v1h-3zM492 588h3v1h-3zM498 588h3v1h-3zM504 588h3v1h-3zM510 588h3v1h-3zM516 588h3v1h-3zM522 588h3v1h-3zM528 588h3v1h-3zM534 588h3v1h-3zM540 588h3v1h-3zM546 588h3v1h-3zM552 588h3v1h-3zM558 588h3v1h-3zM564 588h3v1h-3zM570 588h3v1h-3zM576 588h3v1h-3zM582 588h3v1h-3zM588 588h3v1h-3zM594 588h3v1h-3zM600 588h3v1h-3zM606 588h3v1h-3zM612 588h3v1h-3zM618 588h3v1h-3zM624 588h3v1h-3zM630 588h3v1h-3zM636 588h3v1h-3zM642 588h3v1h-3zM648 588h3v1h-3zM654 588h3v1h-3zM660 588h3v1h-3zM666 588h3v1h-3zM672 588h3v1h-3zM678 588h3v1h-3zM684 588h3v1h-3zM690 588h3v1h-3zM696 588h3v1h-3zM702 588h3v1h-3zM708 588h3v1h-3zM714 588h3v1h-3zM720 588h3v1h-3zM726 588h3v1h-3zM732 588h3v1h-3zM738 588h3v1h-3zM744 588h3v1h-3zM750 588h3v1h-3zM756 588h3v1h-3zM762 588h3v1h-3zM768 588h3v1h-3zM774 588h3v1h-3zM780 588h3v1h-3zM786 588h3v1h-3zM792 588h3v1h-3zM798 588h3v1h-3zM804 588h3v1h-3zM810 588h3v1h-3zM816 588h3v1h-3zM822 588h3v1h-3zM828 588h3v1h-3zM834 588h3v1h-3zM840 588h3v1h-3zM846 588h3v1h-3zM852 588h3v1h-3zM858 588h3v1h-3zM864 588h3v1h-3zM870 588h3v1h-3zM876 588h3v1h-3zM882 588h3v1h-3zM888 588h3v1h-3zM894 588h3v1h-3zM900 588h3v1h-3zM906 588h3v1h-3zM912 588h3v1h-3zM918 588h3v1h-3zM924 588h3v1h-3zM930 588h3v1h-3zM936 588h3v1h-3zM942 588h3v1h-3zM948 588h3v1h-3zM954 588h3v1h-3zM960 588h3v1h-3zM966 588h3v1h-3zM972 588h3v1h-3zM978 588h3v1h-3zM984 588h3v1h-3zM990 588h3v1h-3zM996 588h1v1h-1z" fill="#808080"/><path d="M55 567h2v1h-2zM60 567h3v1h-3zM66 567h3v1h-3zM72 567h3v1h-3zM78 567h3v1h-3zM84 567h3v1h-3zM90 567h3v1h-3zM96 567h3v1h-3zM102 567h3v1h-3zM108 567h3v1h-3zM114 567h3v1h-3zM120 567h3v1h-3zM126 567h3v1h-3zM132 567h3v1h-3zM138 567h3v1h-3zM144 567h3v1h-3zM150 567h3v1h-3zM156 567h3v1h-3zM162 567h3v1h-3zM168 567h3v1h-3zM174 567h3v1h-3zM180 567h3v1h-3zM186 567h3v1h-3zM192 567h3v1h-3zM198 567h3v1h-3zM204 567h3v1h-3zM210 567h3v1h-3zM216 567h3v1h-3zM222 567h3v1h-3zM228 567h3v1h-3zM234 567h3v1h-3zM240 567h3v1h-3zM246 567h3v1h-3zM252 567h3v1h-3zM258 567h3v1h-3zM264 567h3v1h-3zM270 567h3v1h-3zM276 567h3v1h-3zM282 567h3v1h-3zM288 567h3v1h-3zM294 567h3v1h-3zM300 567h3v1h-3zM306 567h3v1h-3zM312 567h3v1h-3zM318 567h3v1h-3zM324 567h3v1h-3zM330 567h3v1h-3zM336 567h3v1h-3zM342 567h3v1h-3zM348 567h3v1h-3zM354 567h3v1h-3zM360 567h3v1h-3zM366 567h3v1h-3zM372 567h3v1h-3zM378 567h3v1h-3zM384 567h3v1h-3zM390 567h3v1h-3zM396 567h3v1h-3zM402 567h3v1h-3zM408 567h3v1h-3zM414 567h3v1h-3zM420 567h3v1h-3zM426 567h3v1h-3zM432 567h3v1h-3zM438 567h3v1h-3zM444 567h3v1h-3zM450 567h3v1h-3zM456 567h3v1h-3zM462 567h3v1h-3zM468 567h3v1h-3zM474 567h3v1h-3zM480 567h3v1h-3zM486 567h3v1h-3zM492 567h3v1h-3zM498 567h3v1h-3zM504 567h3v1h-3zM510 567h3v1h-3zM516 567h3v1h-3zM522 567h3v1h-3zM528 567h3v1h-3zM534 567h3v1h-3zM540 567h3v1h-3zM546 567h3v1h-3zM552 567h3v1h-3zM558 567h3v1h-3zM564 567h3v1h-3zM570 567h3v1h-3zM576 567h3v1h-3zM582 567h3v1h-3zM588 567h3v1h-3zM594 567h3v1h-3zM600 567h3v1h-3zM606 567h3v1h-3zM612 567h3v1h-3zM618 567h3v1h-3zM624 567h3v1h-3zM630 567h3v1h-3zM636 567h3v1h-3zM642 567h3v1h-3zM648 567h3v1h-3zM654 567h3v1h-3zM660 567h3v1h-3zM666 567h3v1h-3zM672 567h3v1h-3zM678 567h3v1h-3zM684 567h3v1h-3zM690 567h3v1h-3zM696 567h3v1h-3zM702 567h3v1h-3zM708 567h3v1h-3zM714 567h3v1h-3zM720 567h3v1h-3zM726 567h3v1h-3zM732 567h3v1h-3zM738 567h3v1h-3zM744 567h3v1h-3zM750 567h3v1h-3zM756 567h3v1h-3zM762 567h3v1h-3zM768 567h3v1h-3zM774 567h3v1h-3zM780 567h3v1h-3zM786 567h3v1h-3zM792 567h3v1h-3zM798 567h3v1h-3zM804 567h3v1h-3zM810 567h3v1h-3zM816 567h3v1h-3zM822 567h3v1h-3zM828 567h3v1h-3zM834 567h3v1h-3zM840 567h3v1h-3zM846 567h3v1h-3zM852 567h3v1h-3zM858 567h3v1h-3zM864 567h3v1h-3zM870 567h3v1h-3zM876 567h3v1h-3zM882 567h3v1h-3zM888 567h3v1h-3zM894 567h3v1h-3zM900 567h3v1h-3zM906 567h3v1h-3zM912 567h3v1h-3zM918 567h3v1h-3zM924 567h3v1h-3zM930 567h3v1h-3zM936 567h3v1h-3zM942 567h3v1h-3zM948 567h3v1h-3zM954 567h3v1h-3zM960 567h3v1h-3zM966 567h3v1h-3zM972 567h3v1h-3zM978 567h3v1h-3zM984 567h3v1h-3zM990 567h3v1h-3zM996 567h1v1h-1z" fill="#808080"/><path d="M55 546h2v1h-2zM60 546h3v1h-3zM66 546h3v1h-3zM72 546h3v1h-3zM78 546h3v1h-3zM84 546h3v1h-3zM90 546h3v1h-3zM96 546h3v1h-3zM102 546h3v1h-3zM108 546h3v1h-3zM114 546h3v1h-3zM120 546h3v1h-3zM126 546h3v1h-3zM132 546h3v1h-3zM138 546h3v1h-3zM144 546h3v1h-3zM150 546h3v1h-3zM156 546h3v1h-3zM162 546h3v1h-3zM168 546h3v1h-3zM174 546h3v1h-3zM180 546h3v1h-3zM186 546h3v1h-3zM192 546h3v1h-3zM198 546h3v1h-3zM204 546h3v1h-3zM210 546h3v1h-3zM216 546h3v1h-3zM222 546h3v1h-3zM228 546h3v1h-3zM234 546h3v1h-3zM240 546h3v1h-3zM246 546h3v1h-3zM252 546h3v1h-3zM258 546h3v1h-3zM264 546h3v1h-3zM270 546h3v1h-3zM276 546h3v1h-3zM282 546h3v1h-3zM288 546h3v1h-3zM294 546h3v1h-3zM300 546h3v1h-3zM306 546h3v1h-3zM312 546h3v1h-3zM318 546h3v1h-3zM324 546h3v1h-3zM330 546h3v1h-3zM336 546h3v1h-3zM342 546h3v1h-3zM348 546h3v1h-3zM354 546h3v1h-3zM360 546h3v1h-3zM366 546h3v1h-3zM372 546h3v1h-3zM378 546h3v1h-3zM384 546h3v1h-3zM390 546h3v1h-3zM396 546h3v1h-3zM402 546h3v1h-3zM408 546h3v1h-3zM414 546h3v1h-3zM420 546h3v1h-3zM426 546h3v1h-3zM432 546h3v1h-3zM438 546h3v1h-3zM444 546h3v1h-3zM450 546h3v1h-3zM456 546h3v1h-3zM462 546h3v1h-3zM468 546h3v1h-3zM474 546h3v1h-3zM480 546h3v1h-3zM486 546h3v1h-3zM492 546h3v1h-3zM498 546h3v1h-3zM504 546h3v1h-3zM510 546h3v1h-3zM516 546h3v1h-3zM522 546h3v1h-3zM528 546h3v1h-3zM534 546h3v1h-3zM540 546h3v1h-3zM546 546h3v1h-3zM552 546h3v1h-3zM558 546h3v1h-3zM564 546h3v1h-3zM570 546h3v1h-3zM576 546h3v1h-3zM582 546h3v1h-3zM588 546h3v1h-3zM594 546h3v1h-3zM600 546h3v1h-3zM606 546h3v1h-3zM612 546h3v1h-3zM618 546h3v1h-3zM624 546h3v1h-3zM630 546h3v1h-3zM636 546h3v1h-3zM642 546h3v1h-3zM648 546h3v1h-3zM654 546h3v1h-3zM660 546h3v1h-3zM666 546h3v1h-3zM672 546h3v1h-3zM678 546h3v1h-3zM684 546h3v1h-3zM690 546h3v1h-3zM696 546h3v1h-3zM702 546h3v1h-3zM708 546h3v1h-3zM714 546h3v1h-3zM720 546h3v1h-3zM726 546h3v1h-3zM732 546h3v1h-3zM738 546h3v1h-3zM744 546h3v1h-3zM750 546h3v1h-3zM756 546h3v1h-3zM762 546h3v1h-3zM768 546h3v1h-3zM774 546h3v1h-3zM780 546h3v1h-3zM786 546h3v1h-3zM792 546h3v1h-3zM798 546h3v1h-3zM804 546h3v1h-3zM810 546h3v1h-3zM816 546h3v1h-3zM822 546h3v1h-3zM828 546h3v1h-3zM834 546h3v1h-3zM840 546h3v1h-3zM846 546h3v1h-3zM852 546h3v1h-3zM858 546h3v1h-3zM864 546h3v1h-3zM870 546h3v1h-3zM876 546h3v1h-3zM882 546h3v1h-3zM888 546h3v1h-3zM894 546h3v1h-3zM900 546h3v1h-3zM906 546h3v1h-3zM912 546h3v1h-3zM918 546h3v1h-3zM924 546h3v1h-3zM930 546h3v1h-3zM936 546h3v1h-3zM942 546h3v1h-3zM948 546h3v1h-3zM954 546h3v1h-3zM960 546h3v1h-3zM966 546h3v1h-3zM972 546h3v1h-3zM978 546h3v1h-3zM984 546h3v1h-3zM990 546h3v1h-3zM996 546h1v1h-1z" fill="#808080"/><path d="M55 525h2v1h-2zM60 525h3v1h-3zM66 525h3v1h-3zM72 525h3v1h-3zM78 525h3v1h-3zM84 525h3v1h-3zM90 525h3v1h-3zM96 525h3v1h-3zM102 525h3v1h-3zM108 525h3v1h-3zM114 525h3v1h-3zM120 525h3v1h-3zM126 525h3v1h-3zM132 525h3v1h-3zM138 525h3v1h-3zM144 525h3v1h-3zM150 525h3v1h-3zM156 525h3v1h-3zM162 525h3v1h-3zM168 525h3v1h-3zM174 525h3v1h-3zM180 525h3v1h-3zM186 525h3v1h-3zM192 525h3v1h-3zM198 525h3v1h-3zM204 525h3v1h-3zM210 525h3v1h-3zM216 525h3v1h-3zM222 525h3v1h-3zM228 525h3v1h-3zM234 525h3v1h-3zM240 525h3v1h-3zM246 525h3v1h-3zM252 525h3v1h-3zM258 525h3v1h-3zM264 525h3v1h-3zM270 525h3v1h-3zM276 525h3v1h-3zM282 525h3v1h-3zM288 525h3v1h-3zM294 525h3v1h-3zM300 525h3v1h-3zM306 525h3v1h-3zM312 525h3v1h-3zM318 525h3v1h-3zM324 525h3v1h-3zM330 525h3v1h-3zM336 525h3v1h-3zM342 525h3v1h-3zM348 525h3v1h-3zM354 525h3v1h-3zM360 525h3v1h-3zM366 525h3v1h-3zM372 525h3v1h-3zM378 525h3v1h-3zM384 525h3v1h-3zM390 525h3v1h-3zM396 525h3v1h-3zM402 525h3v1h-3zM408 525h3v1h-3zM414 525h3v1h-3zM420 525h3v1h-3zM426 525h3v1h-3zM432 525h3v1h-3zM438 525h3v1h-3zM444 525h3v1h-3zM450 525h3v1h-3zM456 525h3v1h-3zM462 525h3v1h-3zM468 525h3v1h-3zM474 525h3v1h-3zM480 525h3v1h-3zM486 525h3v1h-3zM492 525h3v1h-3zM498 525h3v1h-3zM504 525h3v1h-3zM510 525h3v1h-3zM516 525h3v1h-3zM522 525h3v1h-3zM528 525h3v1h-3zM534 525h3v1h-3zM540 525h3v1h-3zM546 525h3v1h-3zM552 525h3v1h-3zM558 525h3v1h-3zM564 525h3v1h-3zM570 525h3v1h-3zM576 525h3v1h-3zM582 525h3v1h-3zM588 525h3v1h-3zM594 525h3v1h-3zM600 525h3v1h-3zM606 525h3v1h-3zM612 525h3v1h-3zM618 525h3v1h-3zM624 525h3v1h-3zM630 525h3v1h-3zM636 525h3v1h-3zM642 525h3v1h-3zM648 525h3v1h-3zM654 525h3v1h-3zM660 525h3v1h-3zM666 525h3v1h-3zM672 525h3v1h-3zM678 525h3v1h-3zM684 525h3v1h-3zM690 525h3v1h-3zM696 525h3v1h-3zM702 525h3v1h-3zM708 525h3v1h-3zM714 525h3v1h-3zM720 525h3v1h-3zM726 525h3v1h-3zM732 525h3v1h-3zM738 525h3v1h-3zM744 525h3v1h-3zM750 525h3v1h-3zM756 525h3v1h-3zM762 525h3v1h-3zM768 525h3v1h-3zM774 525h3v1h-3zM780 525h3v1h-3zM786 525h3v1h-3zM792 525h3v1h-3zM798 525h3v1h-3zM804 525h3v1h-3zM810 525h3v1h-3zM816 525h3v1h-3zM822 525h3v1h-3zM828 525h3v1h-3zM834 525h3v1h-3zM840 525h3v1h-3zM846 525h3v1h-3zM852 525h3v1h-3zM858 525h3v1h-3zM864 525h3v1h-3zM870 525h3v1h-3zM876 525h3v1h-3zM882 525h3v1h-3zM888 525h3v1h-3zM894 525h3v1h-3zM900 525h3v1h-3zM906 525h3v1h-3zM912 525h3v1h-3zM918 525h3v1h-3zM924 525h3v1h-3zM930 525h3v1h-3zM936 525h3v1h-3zM942 525h3v1h-3zM948 525h3v1h-3zM954 525h3v1h-3zM960 525h3v1h-3zM966 525h3v1h-3zM972 525h3v1h-3zM978 525h3v1h-3zM984 525h3v1h-3zM990 525h3v1h-3zM996 525h1v1h-1z" fill="#808080"/><path d="M55 504h2v1h-2zM60 504h3v1h-3zM66 504h3v1h-3zM72 504h3v1h-3zM78 504h3v1h-3zM84 504h3v1h-3zM90 504h3v1h-3zM96 504h3v1h-3zM102 504h3v1h-3zM108 504h3v1h-3zM114 504h3v1h-3zM120 504h3v1h-3zM126 504h3v1h-3zM132 504h3v1h-3zM138 504h3v1h-3zM144 504h3v1h-3zM150 504h3v1h-3zM156 504h3v1h-3zM162 504h3v1h-3zM168 504h3v1h-3zM174 504h3v1h-3zM180 504h3v1h-3zM186 504h3v1h-3zM192 504h3v1h-3zM198 504h3v1h-3zM204 504h3v1h-3zM210 504h3v1h-3zM216 504h3v1h-3zM222 504h3v1h-3zM228 504h3v1h-3zM234 504h3v1h-3zM240 504h3v1h-3zM246 504h3v1h-3zM252 504h3v1h-3zM258 504h3v1h-3zM264 504h3v1h-3zM270 504h3v1h-3zM276 504h3v1h-3zM282 504h3v1h-3zM288 504h3v1h-3zM294 504h3v1h-3zM300 504h3v1h-3zM306 504h3v1h-3zM312 504h3v1h-3zM318 504h3v1h-3zM324 504h3v1h-3zM330 504h3v1h-3zM336 504h3v1h-3zM342 504h3v1h-3zM348 504h3v1h-3zM354 504h3v1h-3zM360 504h3v1h-3zM366 504h3v1h-3zM372 504h3v1h-3zM378 504h3v1h-3zM384 504h3v1h-3zM390 504h3v1h-3zM396 504h3v1h-3zM402 504h3v1h-3zM408 504h3v1h-3zM414 504h3v1h-3zM420 504h3v1h-3zM426 504h3v1h-3zM432 504h3v1h-3zM438 504h3v1h-3zM444 504h3v1h-3zM450 504h3v1h-3zM456 504h3v1h-3zM462 504h3v1h-3zM468 504h3v1h-3zM474 504h3v1h-3zM480 504h3v1h-3zM486 504h3v1h-3zM492 504h3v1h-3zM498 504h3v1h-3zM504 504h3v1h-3zM510 504h3v1h-3zM516 504h3v1h-3zM522 504h3v1h-3zM528 504h3v1h-3zM534 504h3v1h-3zM540 504h3v1h-3zM546 504h3v1h-3zM552 504h3v1h-3zM558 504h3v1h-3zM564 504h3v1h-3zM570 504h3v1h-3zM576 504h3v1h-3zM582 504h3v1h-3zM588 504h3v1h-3zM594 504h3v1h-3zM600 504h3v1h-3zM606 504h3v1h-3zM612 504h3v1h-3zM618 504h3v1h-3zM624 504h3v1h-3zM630 504h3v1h-3zM636 504h3v1h-3zM642 504h3v1h-3zM648 504h3v1h-3zM654 504h3v1h-3zM660 504h3v1h-3zM666 504h3v1h-3zM672 504h3v1h-3zM678 504h3v1h-3zM684 504h3v1h-3zM690 504h3v1h-3zM696 504h3v1h-3zM702 504h3v1h-3zM708 504h3v1h-3zM714 504h3v1h-3zM720 504h3v1h-3zM726 504h3v1h-3zM732 504h3v1h-3zM738 504h3v1h-3zM744 504h3v1h-3zM750 504h3v1h-3zM756 504h3v1h-3zM762 504h3v1h-3zM768 504h3v1h-3zM774 504h3v1h-3zM780 504h3v1h-3zM786 504h3v1h-3zM792 504h3v1h-3zM798 504h3v1h-3zM804 504h3v1h-3zM810 504h3v1h-3zM816 504h3v1h-3zM822 504h3v1h-3zM828 504h3v1h-3zM834 504h3v1h-3zM840 504h3v1h-3zM846 504h3v1h-3zM852 504h3v1h-3zM858 504h3v1h-3zM864 504h3v1h-3zM870 504h3v1h-3zM876 504h3v1h-3zM882 504h3v1h-3zM888 504h3v1h-3zM894 504h3v1h-3zM900 504h3v1h-3zM906 504h3v1h-3zM912 504h3v1h-3zM918 504h3v1h-3zM924 504h3v1h-3zM930 504h3v1h-3zM936 504h3v1h-3zM942 504h3v1h-3zM948 504h3v1h-3zM954 504h3v1h-3zM960 504h3v1h-3zM966 504h3v1h-3zM972 504h3v1h-3zM978 504h3v1h-3zM984 504h3v1h-3zM990 504h3v1h-3zM996 504h1v1h-1z" fill="#808080"/><path d="M55 483h2v1h-2zM60 483h3v1h-3zM66 483h3v1h-3zM72 483h3v1h-3zM78 483h3v1h-3zM84 483h3v1h-3zM90 483h3v1h-3zM96 483h3v1h-3zM102 483h3v1h-3zM108 483h3v1h-3zM114 483h3v1h-3zM120 483h3v1h-3zM126 483h3v1h-3zM132 483h3v1h-3zM138 483h3v1h-3zM144 483h3v1h-3zM150 483h3v1h-3zM156 483h3v1h-3zM162 483h3v1h-3zM168 483h3v1h-3zM174 483h3v1h-3zM180 483h3v1h-3zM186 483h3v1h-3zM192 483h3v1h-3zM198 483h3v1h-3zM204 483h3v1h-3zM210 483h3v1h-3zM216 483h3v1h-3zM222 483h3v1h-3zM228 483h3v1h-3zM234 483h3v1h-3zM240 483h3v1h-3zM246 483h3v1h-3zM252 483h3v1h-3zM258 483h3v1h-3zM264 483h3v1h-3zM270 483h3v1h-3zM276 483h3v1h-3zM282 483h3v1h-3zM288 483h3v1h-3zM294 483h3v1h-3zM300 483h3v1h-3zM306 483h3v1h-3zM312 483h3v1h-3zM318 483h3v1h-3zM324 483h3v1h-3zM330 483h3v1h-3zM336 483h3v1h-3zM342 483h3v1h-3zM348 483h3v1h-3zM354 483h3v1h-3zM360 483h3v1h-3zM366 483h3v1h-3zM372 483h3v1h-3zM378 483h3v1h-3zM384 483h3v1h-3zM390 483h3v1h-3zM396 483h3v1h-3zM402 483h3v1h-3zM408 483h3v1h-3zM414 483h3v1h-3zM420 483h3v1h-3zM426 483h3v1h-3zM432 483h3v1h-3zM438 483h3v1h-3zM444 483h3v1h-3zM450 483h3v1h-3zM456 483h3v1h-3zM462 483h3v1h-3zM468 483h3v1h-3zM474 483h3v1h-3zM480 483h3v1h-3zM486 483h3v1h-3zM492 483h3v1h-3zM498 483h3v1h-3zM504 483h3v1h-3zM510 483h3v1h-3zM516 483h3v1h-3zM522 483h3v1h-3zM528 483h3v1h-3zM534 483h3v1h-3zM540 483h3v1h-3zM546 483h3v1h-3zM552 483h3v1h-3zM558 483h3v1h-3zM564 483h3v1h-3zM570 483h3v1h-3zM576 483h3v1h-3zM582 483h3v1h-3zM588 483h3v1h-3zM594 483h3v1h-3zM600 483h3v1h-3zM606 483h3v1h-3zM612 483h3v1h-3zM618 483h3v1h-3zM624 483h3v1h-3zM630 483h3v1h-3zM636 483h3v1h-3zM642 483h3v1h-3zM648 483h3v1h-3zM654 483h3v1h-3zM660 483h3v1h-3zM666 483h3v1h-3zM672 483h3v1h-3zM678 483h3v1h-3zM684 483h3v1h-3zM690 483h3v1h-3zM696 483h3v1h-3zM702 483h3v1h-3zM708 483h3v1h-3zM714 483h3v1h-3zM720 483h3v1h-3zM726 483h3v1h-3zM732 483h3v1h-3zM738 483h3v1h-3zM744 483h3v1h-3zM750 483h3v1h-3zM756 483h3v1h-3zM762 483h3v1h-3zM768 483h3v1h-3zM774 483h3v1h-3zM780 483h3v1h-3zM786 483h3v1h-3zM792 483h3v1h-3zM798 483h3v1h-3zM804 483h3v1h-3zM810 483h3v1h-3zM816 483h3v1h-3zM822 483h3v1h-3zM828 483h3v1h-3zM834 483h3v1h-3zM840 483h3v1h-3zM846 483h3v1h-3zM852 483h3v1h-3zM858 483h3v1h-3zM864 483h3v1h-3zM870 483h3v1h-3zM876 483h3v1h-3zM882 483h3v1h-3zM888 483h3v1h-3zM894 483h3v1h-3zM900 483h3v1h-3zM906 483h3v1h-3zM912 483h3v1h-3zM918 483h3v1h-3zM924 483h3v1h-3zM930 483h3v1h-3zM936 483h3v1h-3zM942 483h3v1h-3zM948 483h3v1h-3zM954 483h3v1h-3zM960 483h3v1h-3zM966 483h3v1h-3zM972 483h3v1h-3zM978 483h3v1h-3zM984 483h3v1h-3zM990 483h3v1h-3zM996 483h1v1h-1z" fill="#808080"/><path d="M55 462h2v1h-2zM60 462h3v1h-3zM66 462h3v1h-3zM72 462h3v1h-3zM78 462h3v1h-3zM84 462h3v1h-3zM90 462h3v1h-3zM96 462h3v1h-3zM102 462h3v1h-3zM108 462h3v1h-3zM114 462h3v1h-3zM120 462h3v1h-3zM126 462h3v1h-3zM132 462h3v1h-3zM138 462h3v1h-3zM144 462h3v1h-3zM150 462h3v1h-3zM156 462h3v1h-3zM162 462h3v1h-3zM168 462h3v1h-3zM174 462h3v1h-3zM180 462h3v1h-3zM186 462h3v1h-3zM192 462h3v1h-3zM198 462h3v1h-3zM204 462h3v1h-3zM210 462h3v1h-3zM216 462h3v1h-3zM222 462h3v1h-3zM228 462h3v1h-3zM234 462h3v1h-3zM240 462h3v1h-3zM246 462h3v1h-3zM252 462h3v1h-3zM258 462h3v1h-3zM264 462h3v1h-3zM270 462h3v1h-3zM276 462h3v1h-3zM282 462h3v1h-3zM288 462h3v1h-3zM294 462h3v1h-3zM300 462h3v1h-3zM306 462h3v1h-3zM312 462h3v1h-3zM318 462h3v1h-3zM324 462h3v1h-3zM330 462h3v1h-3zM336 462h3v1h-3zM342 462h3v1h-3zM348 462h3v1h-3zM354 462h3v1h-3zM360 462h3v1h-3zM366 462h3v1h-3zM372 462h3v1h-3zM378 462h3v1h-3zM384 462h3v1h-3zM390 462h3v1h-3zM396 462h3v1h-3zM402 462h3v1h-3zM408 462h3v1h-3zM414 462h3v1h-3zM420 462h3v1h-3zM426 462h3v1h-3zM432 462h3v1h-3zM438 462h3v1h-3zM444 462h3v1h-3zM450 462h3v1h-3zM456 462h3v1h-3zM462 462h3v1h-3zM468 462h3v1h-3zM474 462h3v1h-3zM480 462h3v1h-3zM486 462h3v1h-3zM492 462h3v1h-3zM498 462h3v1h-3zM504 462h3v1h-3zM510 462h3v1h-3zM516 462h3v1h-3zM522 462h3v1h-3zM528 462h3v1h-3zM534 462h3v1h-3zM540 462h3v1h-3zM546 462h3v1h-3zM552 462h3v1h-3zM558 462h3v1h-3zM564 462h3v1h-3zM570 462h3v1h-3zM576 462h3v1h-3zM582 462h3v1h-3zM588 462h3v1h-3zM594 462h3v1h-3zM600 462h3v1h-3zM606 462h3v1h-3zM612 462h3v1h-3zM618 462h3v1h-3zM624 462h3v1h-3zM630 462h3v1h-3zM636 462h3v1h-3zM642 462h3v1h-3zM648 462h3v1h-3zM654 462h3v1h-3zM660 462h3v1h-3zM666 462h3v1h-3zM672 462h3v1h-3zM678 462h3v1h-3zM684 462h3v1h-3zM690 462h3v1h-3zM696 462h3v1h-3zM702 462h3v1h-3zM708 462h3v1h-3zM714 462h3v1h-3zM720 462h3v1h-3zM726 462h3v1h-3zM732 462h3v1h-3zM738 462h3v1h-3zM744 462h3v1h-3zM750 462h3v1h-3zM756 462h3v1h-3zM762 462h3v1h-3zM768 462h3v1h-3zM774 462h3v1h-3zM780 462h3v1h-3zM786 462h3v1h-3zM792 462h3v1h-3zM798 462h3v1h-3zM804 462h3v1h-3zM810 462h3v1h-3zM816 462h3v1h-3zM822 462h3v1h-3zM828 462h3v1h-3zM834 462h3v1h-3zM840 462h3v1h-3zM846 462h3v1h-3zM852 462h3v1h-3zM858 462h3v1h-3zM864 462h3v1h-3zM870 462h3v1h-3zM876 462h3v1h-3zM882 462h3v1h-3zM888 462h3v1h-3zM894 462h3v1h-3zM900 462h3v1h-3zM906 462h3v1h-3zM912 462h3v1h-3zM918 462h3v1h-3zM924 462h3v1h-3zM930 462h3v1h-3zM936 462h3v1h-3zM942 462h3v1h-3zM948 462h3v1h-3zM954 462h3v1h-3zM960 462h3v1h-3zM966 462h3v1h-3zM972 462h3v1h-3zM978 462h3v1h-3zM984 462h3v1h-3zM990 462h3v1h-3zM996 462h1v1h-1z" fill="#808080"/><path d="M55 442h2v1h-2zM60 442h3v1h-3zM66 442h3v1h-3zM72 442h3v1h-3zM78 442h3v1h-3zM84 442h3v1h-3zM90 442h3v1h-3zM96 442h3v1h-3zM102 442h3v1h-3zM108 442h3v1h-3zM114 442h3v1h-3zM120 442h3v1h-3zM126 442h3v1h-3zM132 442h3v1h-3zM138 442h3v1h-3zM144 442h3v1h-3zM150 442h3v1h-3zM156 442h3v1h-3zM162 442h3v1h-3zM168 442h3v1h-3zM174 442h3v1h-3zM180 442h3v1h-3zM186 442h3v1h-3zM192 442h3v1h-3zM198 442h3v1h-3zM204 442h3v1h-3zM210 442h3v1h-3zM216 442h3v1h-3zM222 442h3v1h-3zM228 442h3v1h-3zM234 442h3v1h-3zM240 442h3v1h-3zM246 442h3v1h-3zM252 442h3v1h-3zM258 442h3v1h-3zM264 442h3v1h-3zM270 442h3v1h-3zM276 442h3v1h-3zM282 442h3v1h-3zM288 442h3v1h-3zM294 442h3v1h-3zM300 442h3v1h-3zM306 442h3v1h-3zM312 442h3v1h-3zM318 442h3v1h-3zM324 442h3v1h-3zM330 442h3v1h-3zM336 442h3v1h-3zM342 442h3v1h-3zM348 442h3v1h-3zM354 442h3v1h-3zM360 442h3v1h-3zM366 442h3v1h-3zM372 442h3v1h-3zM378 442h3v1h-3zM384 442h3v1h-3zM390 442h3v1h-3zM396 442h3v1h-3zM402 442h3v1h-3zM408 442h3v1h-3zM414 442h3v1h-3zM420 442h3v1h-3zM426 442h3v1h-3zM432 442h3v1h-3zM438 442h3v1h-3zM444 442h3v1h-3zM450 442h3v1h-3zM456 442h3v1h-3zM462 442h3v1h-3zM468 442h3v1h-3zM474 442h3v1h-3zM480 442h3v1h-3zM486 442h3v1h-3zM492 442h3v1h-3zM498 442h3v1h-3zM504 442h3v1h-3zM510 442h3v1h-3zM516 442h3v1h-3zM522 442h3v1h-3zM528 442h3v1h-3zM534 442h3v1h-3zM540 442h3v1h-3zM546 442h3v1h-3zM552 442h3v1h-3zM558 442h3v1h-3zM564 442h3v1h-3zM570 442h3v1h-3zM576 442h3v1h-3zM582 442h3v1h-3zM588 442h3v1h-3zM594 442h3v1h-3zM600 442h3v1h-3zM606 442h3v1h-3zM612 442h3v1h-3zM618 442h3v1h-3zM624 442h3v1h-3zM630 442h3v1h-3zM636 442h3v1h-3zM642 442h3v1h-3zM648 442h3v1h-3zM654 442h3v1h-3zM660 442h3v1h-3zM666 442h3v1h-3zM672 442h3v1h-3zM678 442h3v1h-3zM684 442h3v1h-3zM690 442h3v1h-3zM696 442h3v1h-3zM702 442h3v1h-3zM708 442h3v1h-3zM714 442h3v1h-3zM720 442h3v1h-3zM726 442h3v1h-3zM732 442h3v1h-3zM738 442h3v1h-3zM744 442h3v1h-3zM750 442h3v1h-3zM756 442h3v1h-3zM762 442h3v1h-3zM768 442h3v1h-3zM774 442h3v1h-3zM780 442h3v1h-3zM786 442h3v1h-3zM792 442h3v1h-3zM798 442h3v1h-3zM804 442h3v1h-3zM810 442h3v1h-3zM816 442h3v1h-3zM822 442h3v1h-3zM828 442h3v1h-3zM834 442h3v1h-3zM840 442h3v1h-3zM846 442h3v1h-3zM852 442h3v1h-3zM858 442h3v1h-3zM864 442h3v1h-3zM870 442h3v1h-3zM876 442h3v1h-3zM882 442h3v1h-3zM888 442h3v1h-3zM894 442h3v1h-3zM900 442h3v1h-3zM906 442h3v1h-3zM912 442h3v1h-3zM918 442h3v1h-3zM924 442h3v1h-3zM930 442h3v1h-3zM936 442h3v1h-3zM942 442h3v1h-3zM948 442h3v1h-3zM954 442h3v1h-3zM960 442h3v1h-3zM966 442h3v1h-3zM972 442h3v1h-3zM978 442h3v1h-3zM984 442h3v1h-3zM990 442h3v1h-3zM996 442h1v1h-1z" fill="#808080"/><path d="M55 542h1V608h-1zM56 546h1V608h-1zM57 563h1V608h-1zM58 584h1V608h-1zM59 571h1V608h-1zM60 596h1V608h-1zM61 521h1V608h-1zM62 592h1V608h-1zM63 576h1V608h-1zM64 596h1V608h-1zM65 571h1V608h-1zM66 601h1V608h-1zM67 538h1V608h-1zM68 588h1V608h-1zM69 576h1V608h-1zM70 592h1V608h-1zM71 542h1V608h-1zM72 534h1V608h-1zM73 538h1V608h-1zM74 550h1V608h-1zM75 567h1V608h-1zM76 588h1V608h-1zM77 467h1V608h-1zM78 592h1V608h-1zM79 588h1V608h-1zM80 588h1V608h-1zM81 580h1V608h-1zM82 596h1V608h-1zM83 525h1V608h-1zM84 542h1V608h-1zM85 529h1V608h-1zM86 601h1V608h-1zM87 563h1V608h-1zM88 534h1V608h-1zM89 550h1V608h-1zM90 534h1V608h-1zM91 534h1V608h-1zM92 580h1V608h-1zM93 542h1V608h-1zM94 588h1V608h-1zM95 538h1V608h-1zM96 576h1V608h-1zM97 567h1V608h-1zM98 592h1V608h-1zM99 563h1V608h-1zM100 584h1V608h-1zM101 534h1V608h-1zM102 605h1V608h-1zM103 542h1V608h-1zM104 605h1V608h-1zM105 576h1V608h-1zM106 601h1V608h-1zM107 571h1V608h-1zM108 580h1V608h-1zM109 567h1V608h-1zM110 596h1V608h-1zM111 559h1V608h-1zM112 584h1V608h-1zM113 580h1V608h-1zM114 596h1V608h-1zM115 601h1V608h-1zM117 571h1V608h-1zM118 601h1V608h-1zM119 546h1V608h-1zM120 567h1V608h-1zM121 584h1V608h-1zM122 596h1V608h-1zM123 559h1V608h-1zM124 596h1V608h-1zM125 601h1V608h-1zM126 571h1V608h-1zM127 571h1V608h-1zM128 571h1V608h-1zM129 584h1V608h-1zM130 584h1V608h-1zM131 592h1V608h-1zM132 596h1V608h-1zM133 580h1V608h-1zM134 584h1V608h-1zM135 605h1V608h-1zM136 542h1V608h-1zM137 580h1V608h-1zM138 563h1V608h-1zM139 559h1V608h-1zM140 555h1V608h-1zM141 605h1V608h-1zM142 592h1V608h-1zM143 576h1V608h-1zM144 584h1V608h-1zM145 596h1V608h-1zM146 588h1V608h-1zM147 546h1V608h-1zM148 546h1V608h-1zM149 580h1V608h-1zM150 567h1V608h-1zM151 571h1V608h-1zM152 571h1V608h-1zM153 488h1V608h-1zM154 596h1V608h-1zM155 601h1V608h-1zM156 576h1V608h-1zM157 601h1V608h-1zM158 596h1V608h-1zM159 563h1V608h-1zM160 584h1V608h-1zM161 580h1V608h-1zM162 576h1V608h-1zM163 588h1V608h-1zM164 592h1V608h-1zM165 576h1V608h-1zM166 571h1V608h-1zM167 592h1V608h-1zM168 538h1V608h-1zM170 596h1V608h-1zM171 584h1V608h-1zM172 580h1V608h-1zM173 588h1V608h-1zM174 596h1V608h-1zM175 555h1V608h-1zM176 605h1V608h-1zM177 596h1V608h-1zM178 592h1V608h-1zM179 596h1V608h-1zM180 538h1V608h-1zM181 601h1V608h-1zM182 563h1V608h-1zM183 601h1V608h-1zM184 588h1V608h-1zM185 601h1V608h-1zM186 584h1V608h-1zM187 588h1V608h-1zM188 576h1V608h-1zM189 605h1V608h-1zM190 538h1V608h-1zM191 601h1V608h-1zM192 601h1V608h-1zM193 605h1V608h-1zM194 601h1V608h-1zM195 555h1V608h-1zM196 584h1V608h-1zM197 605h1V608h-1zM198 596h1V608h-1zM199 588h1V608h-1zM200 588h1V608h-1zM201 576h1V608h-1zM202 605h1V608h-1zM204 559h1V608h-1zM205 592h1V608h-1zM206 584h1V608h-1zM208 546h1V608h-1zM209 596h1V608h-1zM210 605h1V608h-1zM211 601h1V608h-1zM212 584h1V608h-1zM213 601h1V608h-1zM214 605h1V608h-1zM216 596h1V608h-1zM217 596h1V608h-1zM218 605h1V608h-1zM219 592h1V608h-1zM220 601h1V608h-1zM221 588h1V608h-1zM222 584h1V608h-1zM224 601h1V608h-1zM225 588h1V608h-1zM226 525h1V608h-1zM227 605h1V608h-1zM228 517h1V608h-1zM229 576h1V608h-1zM230 592h1V608h-1zM232 559h1V608h-1zM233 592h1V608h-1zM234 584h1V608h-1zM236 601h1V608h-1zM237 596h1V608h-1zM238 576h1V608h-1zM239 605h1V608h-1zM240 588h1V608h-1zM241 588h1V608h-1zM242 555h1V608h-1zM243 605h1V608h-1zM244 580h1V608h-1zM246 588h1V608h-1zM247 588h1V608h-1zM248 588h1V608h-1zM250 605h1V608h-1zM252 605h1V608h-1zM253 542h1V608h-1zM254 588h1V608h-1zM256 576h1V608h-1zM258 550h1V608h-1zM259 605h1V608h-1zM261 601h1V608h-1zM262 596h1V608h-1zM263 576h1V608h-1zM264 596h1V608h-1zM265 601h1V608h-1zM266 576h1V608h-1zM267 601h1V608h-1zM268 601h1V608h-1zM269 580h1V608h-1zM270 588h1V608h-1zM272 521h1V608h-1zM273 592h1V608h-1zM274 576h1V608h-1zM275 550h1V608h-1zM276 605h1V608h-1zM277 601h1V608h-1zM278 605h1V608h-1zM279 605h1V608h-1zM280 596h1V608h-1zM282 596h1V608h-1zM283 596h1V608h-1zM285 588h1V608h-1zM286 584h1V608h-1zM287 601h1V608h-1zM288 588h1V608h-1zM290 588h1V608h-1zM292 605h1V608h-1zM293 596h1V608h-1zM294 605h1V608h-1zM295 592h1V608h-1zM296 576h1V608h-1zM297 596h1V608h-1zM298 605h1V608h-1zM299 588h1V608h-1zM300 588h1V608h-1zM302 605h1V608h-1zM303 601h1V608h-1zM304 584h1V608h-1zM305 588h1V608h-1zM306 605h1V608h-1zM307 588h1V608h-1zM308 605h1V608h-1zM310 601h1V608h-1zM313 592h1V608h-1zM314 571h1V608h-1zM316 601h1V608h-1zM317 605h1V608h-1zM319 592h1V608h-1zM320 588h1V608h-1zM321 601h1V608h-1zM322 605h1V608h-1zM323 592h1V608h-1zM324 588h1V608h-1zM325 580h1V608h-1zM326 596h1V608h-1zM327 592h1V608h-1zM328 592h1V608h-1zM329 571h1V608h-1zM331 584h1V608h-1zM332 592h1V608h-1zM333 584h1V608h-1zM335 576h1V608h-1zM337 576h1V608h-1zM338 596h1V608h-1zM339 605h1V608h-1zM340 601h1V608h-1zM341 601h1V608h-1zM343 605h1V608h-1zM344 605h1V608h-1zM346 601h1V608h-1zM347 601h1V608h-1zM348 601h1V608h-1zM349 576h1V608h-1zM350 563h1V608h-1zM352 605h1V608h-1zM353 576h1V608h-1zM354 605h1V608h-1zM355 592h1V608h-1zM356 596h1V608h-1zM357 605h1V608h-1zM358 605h1V608h-1zM359 596h1V608h-1zM360 601h1V608h-1zM361 588h1V608h-1zM362 605h1V608h-1zM363 567h1V608h-1zM365 596h1V608h-1zM366 580h1V608h-1zM367 605h1V608h-1zM368 580h1V608h-1zM369 592h1V608h-1zM370 592h1V608h-1zM371 567h1V608h-1zM373 596h1V608h-1zM374 584h1V608h-1zM375 567h1V608h-1zM376 605h1V608h-1zM377 605h1V608h-1zM379 605h1V608h-1zM380 576h1V608h-1zM381 601h1V608h-1zM382 605h1V608h-1zM383 576h1V608h-1zM384 596h1V608h-1zM385 596h1V608h-1zM387 588h1V608h-1zM388 605h1V608h-1zM389 555h1V608h-1zM391 601h1V608h-1zM392 576h1V608h-1zM393 584h1V608h-1zM394 605h1V608h-1zM395 601h1V608h-1zM397 601h1V608h-1zM398 601h1V608h-1zM399 563h1V608h-1zM400 596h1V608h-1zM402 601h1V608h-1zM403 592h1V608h-1zM404 580h1V608h-1zM405 580h1V608h-1zM406 567h1V608h-1zM407 592h1V608h-1zM409 596h1V608h-1zM410 605h1V608h-1zM411 605h1V608h-1zM412 596h1V608h-1zM415 588h1V608h-1zM416 601h1V608h-1zM417 576h1V608h-1zM419 576h1V608h-1zM420 605h1V608h-1zM421 546h1V608h-1zM422 571h1V608h-1zM423 601h1V608h-1zM425 567h1V608h-1zM426 596h1V608h-1zM427 588h1V608h-1zM428 601h1V608h-1zM430 605h1V608h-1zM431 580h1V608h-1zM432 580h1V608h-1zM433 571h1V608h-1zM435 584h1V608h-1zM436 596h1V608h-1zM437 592h1V608h-1zM439 601h1V608h-1zM440 596h1V608h-1zM441 580h1V608h-1zM442 550h1V608h-1zM443 559h1V608h-1zM444 605h1V608h-1zM447 576h1V608h-1zM448 580h1V608h-1zM449 588h1V608h-1zM450 567h1V608h-1zM451 550h1V608h-1zM452 601h1V608h-1zM453 592h1V608h-1zM454 596h1V608h-1zM456 592h1V608h-1zM458 563h1V608h-1zM459 605h1V608h-1zM460 576h1V608h-1zM461 546h1V608h-1zM462 601h1V608h-1zM463 605h1V608h-1zM464 576h1V608h-1zM465 596h1V608h-1zM467 605h1V608h-1zM468 563h1V608h-1zM469 592h1V608h-1zM470 588h1V608h-1zM471 588h1V608h-1zM472 584h1V608h-1zM473 584h1V608h-1zM474 563h1V608h-1zM476 596h1V608h-1zM478 605h1V608h-1zM479 567h1V608h-1zM480 580h1V608h-1zM481 576h1V608h-1zM482 584h1V608h-1zM484 580h1V608h-1zM486 584h1V608h-1zM487 584h1V608h-1zM488 592h1V608h-1zM489 596h1V608h-1zM490 592h1V608h-1zM492 588h1V608h-1zM493 588h1V608h-1zM494 601h1V608h-1zM495 605h1V608h-1zM496 563h1V608h-1zM497 592h1V608h-1zM498 596h1V608h-1zM499 596h1V608h-1zM500 576h1V608h-1zM502 592h1V608h-1zM504 567h1V608h-1zM505 584h1V608h-1zM506 576h1V608h-1zM507 576h1V608h-1zM508 592h1V608h-1zM509 605h1V608h-1zM510 584h1V608h-1zM511 605h1V608h-1zM512 592h1V608h-1zM513 596h1V608h-1zM514 588h1V608h-1zM516 605h1V608h-1zM518 605h1V608h-1zM520 596h1V608h-1zM522 580h1V608h-1zM523 588h1V608h-1zM524 550h1V608h-1zM525 592h1V608h-1zM526 563h1V608h-1zM527 559h1V608h-1zM528 571h1V608h-1zM529 571h1V608h-1zM530 601h1V608h-1zM531 596h1V608h-1zM532 580h1V608h-1zM533 596h1V608h-1zM534 601h1V608h-1zM535 588h1V608h-1zM536 584h1V608h-1zM537 592h1V608h-1zM538 605h1V608h-1zM539 596h1V608h-1zM540 601h1V608h-1zM542 592h1V608h-1zM544 550h1V608h-1zM545 546h1V608h-1zM546 601h1V608h-1zM547 605h1V608h-1zM548 605h1V608h-1zM549 601h1V608h-1zM550 580h1V608h-1zM551 496h1V608h-1zM552 588h1V608h-1zM553 596h1V608h-1zM554 588h1V608h-1zM555 596h1V608h-1zM556 588h1V608h-1zM557 592h1V608h-1zM558 601h1V608h-1zM559 584h1V608h-1zM560 601h1V608h-1zM561 584h1V608h-1zM562 580h1V608h-1zM563 601h1V608h-1zM564 601h1V608h-1zM565 592h1V608h-1zM566 580h1V608h-1zM567 571h1V608h-1zM568 588h1V608h-1zM570 580h1V608h-1zM571 596h1V608h-1zM572 605h1V608h-1zM573 605h1V608h-1zM574 601h1V608h-1zM576 601h1V608h-1zM577 592h1V608h-1zM578 605h1V608h-1zM580 538h1V608h-1zM581 559h1V608h-1zM582 567h1V608h-1zM584 605h1V608h-1zM586 571h1V608h-1zM587 576h1V608h-1zM588 601h1V608h-1zM591 584h1V608h-1zM592 596h1V608h-1zM593 576h1V608h-1zM596 592h1V608h-1zM597 580h1V608h-1zM598 496h1V608h-1zM599 550h1V608h-1zM600 592h1V608h-1zM602 592h1V608h-1zM604 580h1V608h-1zM606 596h1V608h-1zM607 580h1V608h-1zM608 588h1V608h-1zM609 601h1V608h-1zM610 584h1V608h-1zM611 601h1V608h-1zM612 605h1V608h-1zM613 500h1V608h-1zM614 596h1V608h-1zM615 601h1V608h-1zM616 592h1V608h-1zM617 534h1V608h-1zM618 601h1V608h-1zM619 584h1V608h-1zM620 588h1V608h-1zM621 601h1V608h-1zM622 601h1V608h-1zM623 567h1V608h-1zM624 601h1V608h-1zM627 580h1V608h-1zM628 592h1V608h-1zM629 521h1V608h-1zM630 601h1V608h-1zM631 596h1V608h-1zM634 567h1V608h-1zM635 592h1V608h-1zM636 563h1V608h-1zM637 563h1V608h-1zM638 588h1V608h-1zM639 601h1V608h-1zM640 571h1V608h-1zM641 605h1V608h-1zM642 584h1V608h-1zM643 605h1V608h-1zM645 580h1V608h-1zM646 576h1V608h-1zM647 588h1V608h-1zM648 605h1V608h-1zM649 592h1V608h-1zM650 605h1V608h-1zM653 588h1V608h-1zM654 567h1V608h-1zM655 584h1V608h-1zM656 509h1V608h-1zM657 567h1V608h-1zM658 584h1V608h-1zM659 580h1V608h-1zM660 596h1V608h-1zM661 559h1V608h-1zM662 513h1V608h-1zM663 521h1V608h-1zM664 517h1V608h-1zM665 483h1V608h-1zM666 454h1V608h-1zM667 496h1V608h-1zM668 521h1V608h-1zM669 513h1V608h-1zM670 529h1V608h-1zM671 429h1V608h-1zM672 534h1V608h-1zM673 567h1V608h-1zM674 580h1V608h-1zM675 479h1V608h-1zM676 601h1V608h-1zM677 571h1V608h-1zM678 588h1V608h-1zM679 596h1V608h-1zM680 601h1V608h-1zM681 592h1V608h-1zM682 605h1V608h-1zM683 596h1V608h-1zM685 605h1V608h-1zM686 601h1V608h-1zM687 605h1V608h-1zM688 601h1V608h-1zM689 584h1V608h-1zM690 601h1V608h-1zM691 601h1V608h-1zM692 601h1V608h-1zM693 601h1V608h-1zM694 576h1V608h-1zM695 601h1V608h-1zM697 605h1V608h-1zM698 605h1V608h-1zM699 571h1V608h-1zM700 596h1V608h-1zM701 605h1V608h-1zM702 596h1V608h-1zM703 584h1V608h-1zM705 605h1V608h-1zM706 563h1V608h-1zM707 596h1V608h-1zM708 605h1V608h-1zM709 550h1V608h-1zM710 605h1V608h-1zM711 601h1V608h-1zM712 605h1V608h-1zM713 596h1V608h-1zM714 596h1V608h-1zM715 588h1V608h-1zM716 605h1V608h-1zM717 580h1V608h-1zM718 601h1V608h-1zM720 605h1V608h-1zM721 571h1V608h-1zM722 592h1V608h-1zM723 584h1V608h-1zM724 592h1V608h-1zM725 580h1V608h-1zM727 592h1V608h-1zM728 596h1V608h-1zM729 567h1V608h-1zM730 596h1V608h-1zM731 529h1V608h-1zM732 605h1V608h-1zM733 592h1V608h-1zM735 596h1V608h-1zM736 605h1V608h-1zM737 601h1V608h-1zM739 605h1V608h-1zM740 605h1V608h-1zM741 576h1V608h-1zM743 601h1V608h-1zM744 601h1V608h-1zM745 596h1V608h-1zM747 605h1V608h-1zM748 601h1V608h-1zM749 576h1V608h-1zM750 596h1V608h-1zM751 588h1V608h-1zM752 605h1V608h-1zM754 592h1V608h-1zM755 571h1V608h-1zM756 605h1V608h-1zM759 601h1V608h-1zM764 596h1V608h-1zM765 605h1V608h-1zM766 601h1V608h-1zM768 605h1V608h-1zM769 605h1V608h-1zM770 596h1V608h-1zM771 571h1V608h-1zM772 588h1V608h-1zM773 592h1V608h-1zM774 605h1V608h-1zM775 576h1V608h-1zM776 601h1V608h-1zM780 605h1V608h-1zM783 605h1V608h-1zM784 601h1V608h-1zM785 596h1V608h-1zM786 559h1V608h-1zM787 605h1V608h-1zM788 588h1V608h-1zM789 592h1V608h-1zM790 601h1V608h-1zM792 601h1V608h-1zM793 588h1V608h-1zM794 588h1V608h-1zM796 605h1V608h-1zM797 584h1V608h-1zM798 605h1V608h-1zM799 592h1V608h-1zM800 601h1V608h-1zM803 605h1V608h-1zM804 601h1V608h-1zM805 605h1V608h-1zM806 596h1V608h-1zM808 584h1V608h-1zM809 576h1V608h-1zM810 605h1V608h-1zM812 584h1V608h-1zM814 601h1V608h-1zM818 605h1V608h-1zM819 580h1V608h-1zM820 601h1V608h-1zM821 601h1V608h-1zM824 596h1V608h-1zM828 601h1V608h-1zM829 580h1V608h-1zM831 601h1V608h-1zM835 601h1V608h-1zM838 588h1V608h-1zM839 596h1V608h-1zM840 605h1V608h-1zM844 576h1V608h-1zM845 588h1V608h-1zM846 605h1V608h-1zM847 601h1V608h-1zM850 605h1V608h-1zM852 601h1V608h-1zM853 601h1V608h-1zM855 605h1V608h-1zM858 592h1V608h-1zM859 601h1V608h-1zM861 605h1V608h-1zM864 588h1V608h-1zM865 588h1V608h-1zM868 605h1V608h-1zM871 584h1V608h-1zM880 596h1V608h-1zM884 601h1V608h-1zM890 592h1V608h-1zM896 605h1V608h-1zM898 601h1V608h-1zM900 576h1V608h-1zM901 559h1V608h-1zM902 563h1V608h-1zM903 588h1V608h-1zM905 605h1V608h-1zM906 601h1V608h-1zM908 588h1V608h-1zM913 567h1V608h-1zM921 601h1V608h-1zM922 584h1V608h-1zM923 596h1V608h-1zM925 601h1V608h-1zM929 605h1V608h-1zM930 601h1V608h-1zM931 571h1V608h-1zM933 588h1V608h-1zM934 596h1V608h-1zM935 596h1V608h-1zM945 584h1V608h-1zM952 592h1V608h-1zM953 584h1V608h-1zM954 580h1V608h-1zM957 605h1V608h-1zM960 605h1V608h-1zM961 601h1V608h-1zM962 596h1V608h-1zM967 601h1V608h-1zM971 596h1V608h-1zM972 605h1V608h-1zM973 605h1V608h-1zM975 601h1V608h-1zM983 601h1V608h-1zM985 601h1V608h-1zM993 588h1V608h-1z" fill="#FF9999"/><rect x="53" y="429" width="946" height="1" fill="#000"/><rect x="53" y="429" width="2" height="181" fill="#000"/><rect x="997" y="429" width="2" height="181" fill="#000"/><rect x="53" y="608" width="946" height="2" fill="#000"/><rect x="50" y="609" width="7" height="1" fill="#808080"/><rect x="995" y="609" width="8" height="1" fill="#808080"/><rect x="52" y="604" width="2" height="1" fill="#808080"/><rect x="998" y="604" width="3" height="1" fill="#808080"/><rect x="52" y="598" width="2" height="1" fill="#808080"/><rect x="998" y="598" width="3" height="1" fill="#808080"/><rect x="52" y="593" width="2" height="1" fill="#808080"/><rect x="998" y="593" width="3" height="1" fill="#808080"/><rect x="50" y="588" width="7" height="1" fill="#808080"/><rect x="995" y="588" width="8" height="1" fill="#808080"/><rect x="52" y="583" width="2" height="1" fill="#808080"/><rect x="998" y="583" width="3" height="1" fill="#808080"/><rect x="52" y="578" width="2" height="1" fill="#808080"/><rect x="998" y="578" width="3" height="1" fill="#808080"/><rect x="52" y="572" width="2" height="1" fill="#808080"/><rect x="998" y="572" width="3" height="1" fill="#808080"/><rect x="50" y="567" width="7" height="1" fill="#808080"/><rect x="995" y="567" width="8" height="1" fill="#808080"/><rect x="52" y="562" width="2" height="1" fill="#808080"/><rect x="998" y="562" width="3" height="1" fill="#808080"/><rect x="52" y="556" width="2" height="1" fill="#808080"/><rect x="998" y="556" width="3" height="1" fill="#808080"/><rect x="52" y="551" width="2" height="1" fill="#808080"/><rect x="998" y="551" width="3" height="1" fill="#808080"/><rect x="50" y="546" width="7" height="1" fill="#808080"/><rect x="995" y="546" width="8" height="1" fill="#808080"/><rect x="52" y="541" width="2" height="1" fill="#808080"/><rect x="998" y="541" width="3" height="1" fill="#808080"/><rect x="52" y="536" width="2" height="1" fill="#808080"/><rect x="998" y="536" width="3" height="1" fill="#808080"/><rect x="52" y="530" width="2" height="1" fill="#808080"/><rect x="998" y="530" width="3" height="1" fill="#808080"/><rect x="50" y="525" width="7" height="1" fill="#808080"/><rect x="995" y="525" width="8" height="1" fill="#808080"/><rect x="52" y="520" width="2" height="1" fill="#808080"/><rect x="998" y="520" width="3" height="1" fill="#808080"/><rect x="52" y="514" width="2" height="1" fill="#808080"/><rect x="998" y="514" width="3" height="1" fill="#808080"/><rect x="52" y="509" width="2" height="1" fill="#808080"/><rect x="998" y="509" width="3" height="1" fill="#808080"/><rect x="50" y="504" width="7" height="1" fill="#808080"/><rect x="995" y="504" width="8" height="1" fill="#808080"/><rect x="52" y="499" width="2" height="1" fill="#808080"/><rect x="998" y="499" width="3" height="1" fill="#808080"/><rect x="52" y="494" width="2" height="1" fill="#808080"/><rect x="998" y="494" width="3" height="1" fill="#808080"/><rect x="52" y="488" width="2" height="1" fill="#808080"/><rect x="998" y="488" width="3" height="1" fill="#808080"/><rect x="50" y="483" width="7" height="1" fill="#808080"/><rect x="995" y="483" width="8" height="1" fill="#808080"/><rect x="52" y="478" width="2" height="1" fill="#808080"/><rect x="998" y="478" width="3" height="1" fill="#808080"/><rect x="52" y="472" width="2" height="1" fill="#808080"/><rect x="998" y="472" width="3" height="1" fill="#808080"/><rect x="52" y="467" width="2" height="1" fill="#808080"/><rect x="998" y="467" width="3" height="1" fill="#808080"/><rect x="50" y="462" width="7" height="1" fill="#808080"/><rect x="995" y="462" width="8" height="1" fill="#808080"/><rect x="52" y="457" width="2" height="1" fill="#808080"/><rect x="998" y="457" width="3" height="1" fill="#808080"/><rect x="52" y="452" width="2" height="1" fill="#808080"/><rect x="998" y="452" width="3" height="1" fill="#808080"/><rect x="52" y="447" width="2" height="1" fill="#808080"/><rect x="998" y="447" width="3" height="1" fill="#808080"/><rect x="50" y="442" width="7" height="1" fill="#808080"/><rect x="995" y="442" width="8" height="1" fill="#808080"/><rect x="52" y="437" width="2" height="1" fill="#808080"/><rect x="998" y="437" width="3" height="1" fill="#808080"/><rect x="52" y="432" width="2" height="1" fill="#808080"/><rect x="998" y="432" width="3" height="1" fill="#808080"/><path d="M54 609h3v1h-3zM60 609h3v1h-3zM66 609h3v1h-3zM72 609h3v1h-3zM78 609h3v1h-3zM84 609h3v1h-3zM90 609h3v1h-3zM96 609h3v1h-3zM102 609h3v1h-3zM108 609h3v1h-3zM114 609h3v1h-3zM120 609h3v1h-3zM126 609h3v1h-3zM132 609h3v1h-3zM138 609h3v1h-3zM144 609h3v1h-3zM150 609h3v1h-3zM156 609h3v1h-3zM162 609h3v1h-3zM168 609h3v1h-3zM174 609h3v1h-3zM180 609h3v1h-3zM186 609h3v1h-3zM192 609h3v1h-3zM198 609h3v1h-3zM204 609h3v1h-3zM210 609h3v1h-3zM216 609h3v1h-3zM222 609h3v1h-3zM228 609h3v1h-3zM234 609h3v1h-3zM240 609h3v1h-3zM246 609h3v1h-3zM252 609h3v1h-3zM258 609h3v1h-3zM264 609h3v1h-3zM270 609h3v1h-3zM276 609h3v1h-3zM282 609h3v1h-3zM288 609h3v1h-3zM294 609h3v1h-3zM300 609h3v1h-3zM306 609h3v1h-3zM312 609h3v1h-3zM318 609h3v1h-3zM324 609h3v1h-3zM330 609h3v1h-3zM336 609h3v1h-3zM342 609h3v1h-3zM348 609h3v1h-3zM354 609h3v1h-3zM360 609h3v1h-3zM366 609h3v1h-3zM372 609h3v1h-3zM378 609h3v1h-3zM384 609h3v1h-3zM390 609h3v1h-3zM396 609h3v1h-3zM402 609h3v1h-3zM408 609h3v1h-3zM414 609h3v1h-3zM420 609h3v1h-3zM426 609h3v1h-3zM432 609h3v1h-3zM438 609h3v1h-3zM444 609h3v1h-3zM450 609h3v1h-3zM456 609h3v1h-3zM462 609h3v1h-3zM468 609h3v1h-3zM474 609h3v1h-3zM480 609h3v1h-3zM486 609h3v1h-3zM492 609h3v1h-3zM498 609h3v1h-3zM504 609h3v1h-3zM510 609h3v1h-3zM516 609h3v1h-3zM522 609h3v1h-3zM528 609h3v1h-3zM534 609h3v1h-3zM540 609h3v1h-3zM546 609h3v1h-3zM552 609h3v1h-3zM558 609h3v1h-3zM564 609h3v1h-3zM570 609h3v1h-3zM576 609h3v1h-3zM582 609h3v1h-3zM588 609h3v1h-3zM594 609h3v1h-3zM600 609h3v1h-3zM606 609h3v1h-3zM612 609h3v1h-3zM618 609h3v1h-3zM624 609h3v1h-3zM630 609h3v1h-3zM636 609h3v1h-3zM642 609h3v1h-3zM648 609h3v1h-3zM654 609h3v1h-3zM660 609h3v1h-3zM666 609h3v1h-3zM672 609h3v1h-3zM678 609h3v1h-3zM684 609h3v1h-3zM690 609h3v1h-3zM696 609h3v1h-3zM702 609h3v1h-3zM708 609h3v1h-3zM714 609h3v1h-3zM720 609h3v1h-3zM726 609h3v1h-3zM732 609h3v1h-3zM738 609h3v1h-3zM744 609h3v1h-3zM750 609h3v1h-3zM756 609h3v1h-3zM762 609h3v1h-3zM768 609h3v1h-3zM774 609h3v1h-3zM780 609h3v1h-3zM786 609h3v1h-3zM792 609h3v1h-3zM798 609h3v1h-3zM804 609h3v1h-3zM810 609h3v1h-3zM816 609h3v1h-3zM822 609h3v1h-3zM828 609h3v1h-3zM834 609h3v1h-3zM840 609h3v1h-3zM846 609h3v1h-3zM852 609h3v1h-3zM858 609h3v1h-3zM864 609h3v1h-3zM870 609h3v1h-3zM876 609h3v1h-3zM882 609h3v1h-3zM888 609h3v1h-3zM894 609h3v1h-3zM900 609h3v1h-3zM906 609h3v1h-3zM912 609h3v1h-3zM918 609h3v1h-3zM924 609h3v1h-3zM930 609h3v1h-3zM936 609h3v1h-3zM942 609h3v1h-3zM948 609h3v1h-3zM954 609h3v1h-3zM960 609h3v1h-3zM966 609h3v1h-3zM972 609h3v1h-3zM978 609h3v1h-3zM984 609h3v1h-3zM990 609h3v1h-3zM996 609h3v1h-3z" fill="#A0A0A0"/><rect x="54" y="609" width="1" height="5" fill="#808080"/><rect x="63" y="610" width="1" height="2" fill="#808080"/><rect x="72" y="610" width="1" height="2" fill="#808080"/><rect x="81" y="610" width="1" height="2" fill="#808080"/><rect x="90" y="609" width="1" height="5" fill="#808080"/><rect x="100" y="610" width="1" height="2" fill="#808080"/><rect x="112" y="610" width="1" height="2" fill="#808080"/><rect x="122" y="610" width="1" height="2" fill="#808080"/><rect x="134" y="609" width="1" height="5" fill="#808080"/><rect x="145" y="610" width="1" height="2" fill="#808080"/><rect x="156" y="610" width="1" height="2" fill="#808080"/><rect x="167" y="610" width="1" height="2" fill="#808080"/><rect x="178" y="609" width="1" height="5" fill="#808080"/><rect x="190" y="610" width="1" height="2" fill="#808080"/><rect x="201" y="610" width="1" height="2" fill="#808080"/><rect x="212" y="610" width="1" height="2" fill="#808080"/><rect x="224" y="609" width="1" height="5" fill="#808080"/><rect x="234" y="610" width="1" height="2" fill="#808080"/><rect x="245" y="610" width="1" height="2" fill="#808080"/><rect x="256" y="610" width="1" height="2" fill="#808080"/><rect x="266" y="609" width="1" height="5" fill="#808080"/><rect x="277" y="610" width="1" height="2" fill="#808080"/><rect x="288" y="610" width="1" height="2" fill="#808080"/><rect x="299" y="610" width="1" height="2" fill="#808080"/><rect x="310" y="609" width="1" height="5" fill="#808080"/><rect x="321" y="610" width="1" height="2" fill="#808080"/><rect x="332" y="610" width="1" height="2" fill="#808080"/><rect x="343" y="610" width="1" height="2" fill="#808080"/><rect x="354" y="609" width="1" height="5" fill="#808080"/><rect x="365" y="610" width="1" height="2" fill="#808080"/><rect x="376" y="610" width="1" height="2" fill="#808080"/><rect x="387" y="610" width="1" height="2" fill="#808080"/><rect x="398" y="609" width="1" height="5" fill="#808080"/><rect x="409" y="610" width="1" height="2" fill="#808080"/><rect x="420" y="610" width="1" height="2" fill="#808080"/><rect x="432" y="610" width="1" height="2" fill="#808080"/><rect x="443" y="609" width="1" height="5" fill="#808080"/><rect x="455" y="610" width="1" height="2" fill="#808080"/><rect x="467" y="610" width="1" height="2" fill="#808080"/><rect x="479" y="610" width="1" height="2" fill="#808080"/><rect x="492" y="609" width="1" height="5" fill="#808080"/><rect x="504" y="610" width="1" height="2" fill="#808080"/><rect x="517" y="610" width="1" height="2" fill="#808080"/><rect x="530" y="610" width="1" height="2" fill="#808080"/><rect x="542" y="609" width="1" height="5" fill="#808080"/><rect x="556" y="610" width="1" height="2" fill="#808080"/><rect x="568" y="610" width="1" height="2" fill="#808080"/><rect x="582" y="610" width="1" height="2" fill="#808080"/><rect x="594" y="609" width="1" height="5" fill="#808080"/><rect x="608" y="610" width="1" height="2" fill="#808080"/><rect x="620" y="610" width="1" height="2" fill="#808080"/><rect x="634" y="610" width="1" height="2" fill="#808080"/><rect x="646" y="609" width="1" height="5" fill="#808080"/><rect x="660" y="610" width="1" height="2" fill="#808080"/><rect x="672" y="610" width="1" height="2" fill="#808080"/><rect x="686" y="610" width="1" height="2" fill="#808080"/><rect x="698" y="609" width="1" height="5" fill="#808080"/><rect x="712" y="610" width="1" height="2" fill="#808080"/><rect x="725" y="610" width="1" height="2" fill="#808080"/><rect x="739" y="610" width="1" height="2" fill="#808080"/><rect x="752" y="609" width="1" height="5" fill="#808080"/><rect x="766" y="610" width="1" height="2" fill="#808080"/><rect x="779" y="610" width="1" height="2" fill="#808080"/><rect x="792" y="610" width="1" height="2" fill="#808080"/><rect x="806" y="609" width="1" height="5" fill="#808080"/><rect x="820" y="610" width="1" height="2" fill="#808080"/><rect x="833" y="610" width="1" height="2" fill="#808080"/><rect x="847" y="610" width="1" height="2" fill="#808080"/><rect x="860" y="609" width="1" height="5" fill="#808080"/><rect x="874" y="610" width="1" height="2" fill="#808080"/><rect x="888" y="610" width="1" height="2" fill="#808080"/><rect x="901" y="610" width="1" height="2" fill="#808080"/><rect x="914" y="609" width="1" height="5" fill="#808080"/><rect x="928" y="610" width="1" height="2" fill="#808080"/><rect x="941" y="610" width="1" height="2" fill="#808080"/><rect x="955" y="610" width="1" height="2" fill="#808080"/><rect x="968" y="609" width="1" height="5" fill="#808080"/><rect x="982" y="610" width="1" height="2" fill="#808080"/><rect x="995" y="610" width="1" height="2" fill="#808080"/><path d="M519 414h5v1h-5zM519 415h2v7h-2zM523 415h2v3h-2zM521 418h3v1h-3zM527 414h5v2h-5zM526 415h2v6h-2zM531 415h2v6h-2zM527 420h5v2h-5z" fill="#000080"/><g filter="url(#th)"><text x="53" y="376" text-anchor="end" font-weight="normal" fill="#000" font-size="11">0</text><text x="998" y="376" text-anchor="start" font-weight="normal" fill="#000" font-size="11">0</text><text x="53" y="358" text-anchor="end" font-weight="normal" fill="#000" font-size="11">20</text><text x="998" y="358" text-anchor="start" font-weight="normal" fill="#000" font-size="11">20</text><text x="53" y="340" text-anchor="end" font-weight="normal" fill="#000" font-size="11">40</text><text x="998" y="340" text-anchor="start" font-weight="normal" fill="#000" font-size="11">40</text><text x="53" y="322" text-anchor="end" font-weight="normal" fill="#000" font-size="11">60</text><text x="998" y="322" text-anchor="start" font-weight="normal" fill="#000" font-size="11">60</text><text x="53" y="304" text-anchor="end" font-weight="normal" fill="#000" font-size="11">80</text><text x="998" y="304" text-anchor="start" font-weight="normal" fill="#000" font-size="11">80</text><text x="53" y="286" text-anchor="end" font-weight="normal" fill="#000" font-size="11">100</text><text x="998" y="286" text-anchor="start" font-weight="normal" fill="#000" font-size="11">100</text><text x="53" y="268" text-anchor="end" font-weight="normal" fill="#000" font-size="11">120</text><text x="998" y="268" text-anchor="start" font-weight="normal" fill="#000" font-size="11">120</text><text x="53" y="250" text-anchor="end" font-weight="normal" fill="#000" font-size="11">140</text><text x="998" y="250" text-anchor="start" font-weight="normal" fill="#000" font-size="11">140</text><text x="53" y="232" text-anchor="end" font-weight="normal" fill="#000" font-size="11">160</text><text x="998" y="232" text-anchor="start" font-weight="normal" fill="#000" font-size="11">160</text><text x="53" y="214" text-anchor="end" font-weight="normal" fill="#000" font-size="11">180</text><text x="998" y="214" text-anchor="start" font-weight="normal" fill="#000" font-size="11">180</text><text x="53" y="196" text-anchor="end" font-weight="normal" fill="#000" font-size="11">200</text><text x="998" y="196" text-anchor="start" font-weight="normal" fill="#000" font-size="11">200</text><text x="59.55" y="388" text-anchor="middle" font-weight="normal" fill="#000" font-size="11">EC4h</text><text x="94.05" y="388" text-anchor="middle" font-weight="normal" fill="#000" font-size="11">164B0h</text><text x="137.8" y="388" text-anchor="middle" font-weight="normal" fill="#000" font-size="11">305E5h</text><text x="183.2" y="388" text-anchor="middle" font-weight="normal" fill="#000" font-size="11">4B367h</text><text x="226.2" y="388" text-anchor="middle" font-weight="normal" fill="#000" font-size="11">65468h</text><text x="270.3" y="388" text-anchor="middle" font-weight="normal" fill="#000" font-size="11">7FB43h</text><text x="315.65" y="388" text-anchor="middle" font-weight="normal" fill="#000" font-size="11">9B51Eh</text><text x="360.95" y="388" text-anchor="middle" font-weight="normal" fill="#000" font-size="11">B6906h</text><text x="406.1" y="388" text-anchor="middle" font-weight="normal" fill="#000" font-size="11">D1D19h</text><text x="452.35" y="388" text-anchor="middle" font-weight="normal" fill="#000" font-size="11">ED082h</text><text x="502.25" y="388" text-anchor="middle" font-weight="normal" fill="#000" font-size="11">10B083h</text><text x="554.55" y="388" text-anchor="middle" font-weight="normal" fill="#000" font-size="11">12A351h</text><text x="605.25" y="388" text-anchor="middle" font-weight="normal" fill="#000" font-size="11">149666h</text><text x="654.7" y="388" text-anchor="middle" font-weight="normal" fill="#000" font-size="11">16761Eh</text><text x="704.85" y="388" text-anchor="middle" font-weight="normal" fill="#000" font-size="11">18500Fh</text><text x="757.35" y="388" text-anchor="middle" font-weight="normal" fill="#000" font-size="11">1A492Ch</text><text x="810.1" y="388" text-anchor="middle" font-weight="normal" fill="#000" font-size="11">1C4912h</text><text x="862.75" y="388" text-anchor="middle" font-weight="normal" fill="#000" font-size="11">1E4297h</text><text x="913.1" y="388" text-anchor="middle" font-weight="normal" fill="#000" font-size="11">2021F6h</text><text x="963.0" y="388" text-anchor="middle" font-weight="normal" fill="#000" font-size="11">2207F0h</text><text x="47" y="613" text-anchor="end" font-weight="normal" fill="#000" font-size="11">0</text><text x="1004" y="613" text-anchor="start" font-weight="normal" fill="#000" font-size="11">0</text><text x="47" y="592" text-anchor="end" font-weight="normal" fill="#000" font-size="11">5</text><text x="1004" y="592" text-anchor="start" font-weight="normal" fill="#000" font-size="11">5</text><text x="47" y="571" text-anchor="end" font-weight="normal" fill="#000" font-size="11">10</text><text x="1004" y="571" text-anchor="start" font-weight="normal" fill="#000" font-size="11">10</text><text x="47" y="550" text-anchor="end" font-weight="normal" fill="#000" font-size="11">15</text><text x="1004" y="550" text-anchor="start" font-weight="normal" fill="#000" font-size="11">15</text><text x="47" y="529" text-anchor="end" font-weight="normal" fill="#000" font-size="11">20</text><text x="1004" y="529" text-anchor="start" font-weight="normal" fill="#000" font-size="11">20</text><text x="47" y="508" text-anchor="end" font-weight="normal" fill="#000" font-size="11">25</text><text x="1004" y="508" text-anchor="start" font-weight="normal" fill="#000" font-size="11">25</text><text x="47" y="487" text-anchor="end" font-weight="normal" fill="#000" font-size="11">30</text><text x="1004" y="487" text-anchor="start" font-weight="normal" fill="#000" font-size="11">30</text><text x="47" y="466" text-anchor="end" font-weight="normal" fill="#000" font-size="11">35</text><text x="1004" y="466" text-anchor="start" font-weight="normal" fill="#000" font-size="11">35</text><text x="47" y="446" text-anchor="end" font-weight="normal" fill="#000" font-size="11">40</text><text x="1004" y="446" text-anchor="start" font-weight="normal" fill="#000" font-size="11">40</text><text x="53.2" y="625" text-anchor="middle" font-weight="normal" fill="#000" font-size="11">EC4h</text><text x="87.75" y="625" text-anchor="middle" font-weight="normal" fill="#000" font-size="11">157EEh</text><text x="131.9" y="625" text-anchor="middle" font-weight="normal" fill="#000" font-size="11">2F955h</text><text x="177.65" y="625" text-anchor="middle" font-weight="normal" fill="#000" font-size="11">4AD21h</text><text x="222.05" y="625" text-anchor="middle" font-weight="normal" fill="#000" font-size="11">65468h</text><text x="265.7" y="625" text-anchor="middle" font-weight="normal" fill="#000" font-size="11">7E85Fh</text><text x="308.55" y="625" text-anchor="middle" font-weight="normal" fill="#000" font-size="11">98285h</text><text x="352.75" y="625" text-anchor="middle" font-weight="normal" fill="#000" font-size="11">B2394h</text><text x="397.65" y="625" text-anchor="middle" font-weight="normal" fill="#000" font-size="11">CD104h</text><text x="442.55" y="625" text-anchor="middle" font-weight="normal" fill="#000" font-size="11">E7801h</text><text x="490.65" y="625" text-anchor="middle" font-weight="normal" fill="#000" font-size="11">104537h</text><text x="540.6" y="625" text-anchor="middle" font-weight="normal" fill="#000" font-size="11">1224EEh</text><text x="593.05" y="625" text-anchor="middle" font-weight="normal" fill="#000" font-size="11">1411B4h</text><text x="645.65" y="625" text-anchor="middle" font-weight="normal" fill="#000" font-size="11">160482h</text><text x="697.2" y="625" text-anchor="middle" font-weight="normal" fill="#000" font-size="11">17F15Dh</text><text x="750.85" y="625" text-anchor="middle" font-weight="normal" fill="#000" font-size="11">19F085h</text><text x="804.55" y="625" text-anchor="middle" font-weight="normal" fill="#000" font-size="11">1BEA1Eh</text><text x="858.6" y="625" text-anchor="middle" font-weight="normal" fill="#000" font-size="11">1DF048h</text><text x="912.35" y="625" text-anchor="middle" font-weight="normal" fill="#000" font-size="11">1FEF69h</text><text x="966.55" y="625" text-anchor="middle" font-weight="normal" fill="#000" font-size="11">21F512h</text></g></svg>
<div class="hdr"></div><div class="txt"><div class="t" style="left:5px;top:6px;letter-spacing:0.32px;font-weight:bold;text-decoration:underline;">KProbe v2.1.0 - Designed by Karr</div><div class="t" style="left:525px;top:6px;letter-spacing:0.15px;">Date : 2005/09/12 3:26:01</div><div class="t" style="left:4px;top:34px;letter-spacing:-0.2px;">Model : 4-0-2-0 P:SONY</div><div class="t" style="left:129.5px;top:34px;letter-spacing:-0.4px;">DVD RW DRU-800A</div><div class="t" style="left:228px;top:34px;letter-spacing:-0.1px;">KY04</div><div class="t" style="left:4px;top:52px;letter-spacing:-0.25px;">Disc : DVD-R , VDSPMSAB 01 [Interaxia AG]</div><div class="t" style="left:4px;top:70px;letter-spacing:0.09px;">Speed : 4x</div><div class="t" style="left:4px;top:88px;letter-spacing:-0.16px;">ECC blocks sum (PI/PO) : 100/100</div><div class="t" style="left:4px;top:106px;letter-spacing:-0.05px;">Scanned range : 0 - 2311F1h</div><div class="t" style="left:4px;top:124px;letter-spacing:0.18px;">PI Max= 200 , Average= 57.43 , Total= 81552</div><div class="t" style="left:4px;top:142px;letter-spacing:0.15px;">PO Max= 43 , Average= 3.55 , Total= 5034</div></div>
</body></html>
